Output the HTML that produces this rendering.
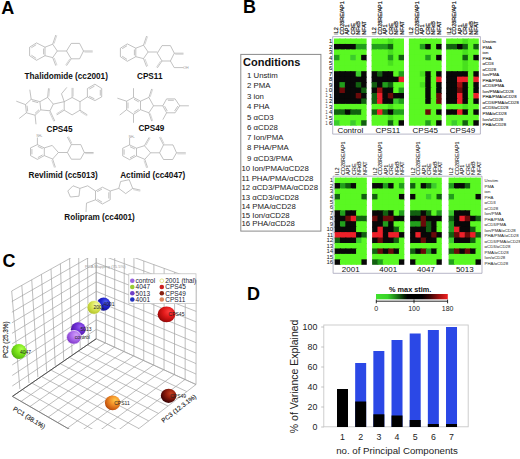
<!DOCTYPE html>
<html><head><meta charset="utf-8"><style>
html,body{margin:0;padding:0;background:#fff;}
body{width:520px;height:459px;overflow:hidden;}
svg{display:block;font-family:"Liberation Sans", sans-serif;}
</style></head><body>
<svg width="520" height="459" viewBox="0 0 520 459">
<path d="M29.6,47.2 L36.5,42.9 L45.0,47.2 L45.0,55.7 L36.5,60.3 L29.6,55.7 Z" fill="none" stroke="#a8a8a8" stroke-width="0.7" stroke-linejoin="round"/>
<path d="M31.4,47.7 L36.2,44.7" fill="none" stroke="#a8a8a8" stroke-width="0.7" stroke-linejoin="round"/>
<path d="M43.6,48.5 L43.6,54.4" fill="none" stroke="#a8a8a8" stroke-width="0.7" stroke-linejoin="round"/>
<path d="M36.2,58.4 L31.4,55.2" fill="none" stroke="#a8a8a8" stroke-width="0.7" stroke-linejoin="round"/>
<path d="M45.0,47.2 L52.7,44.2 L57.3,51.0 L52.7,57.6 L45.0,55.7" fill="none" stroke="#a8a8a8" stroke-width="0.7" stroke-linejoin="round"/>
<path d="M52.7,44.2 L55.8,35.0" fill="none" stroke="#a8a8a8" stroke-width="0.7" stroke-linejoin="round"/>
<path d="M54.1,43.6 L56.8,35.4" fill="none" stroke="#c4c4c4" stroke-width="0.7" stroke-linejoin="round"/>
<path d="M52.7,57.6 L55.8,65.7" fill="none" stroke="#a8a8a8" stroke-width="0.7" stroke-linejoin="round"/>
<path d="M54.2,57.9 L57.0,65.2" fill="none" stroke="#c4c4c4" stroke-width="0.7" stroke-linejoin="round"/>
<path d="M57.3,51.0 L66.5,51.0" fill="none" stroke="#a8a8a8" stroke-width="0.7" stroke-linejoin="round"/>
<path d="M66.5,51.0 L71.2,43.4 L79.6,43.4 L83.5,51.0 L79.6,58.8 L71.2,58.8 Z" fill="none" stroke="#a8a8a8" stroke-width="0.7" stroke-linejoin="round"/>
<path d="M83.5,51.0 L92.7,51.0" fill="none" stroke="#a8a8a8" stroke-width="0.7" stroke-linejoin="round"/>
<path d="M84.4,52.1 L92.7,52.1" fill="none" stroke="#c4c4c4" stroke-width="0.7" stroke-linejoin="round"/>
<path d="M71.2,58.8 L66.5,65.7" fill="none" stroke="#a8a8a8" stroke-width="0.7" stroke-linejoin="round"/>
<path d="M69.8,58.9 L65.6,65.1" fill="none" stroke="#c4c4c4" stroke-width="0.7" stroke-linejoin="round"/>
<path d="M120.4,48.2 L127.3,43.9 L135.8,48.2 L135.8,56.7 L127.3,61.3 L120.4,56.7 Z" fill="none" stroke="#a8a8a8" stroke-width="0.7" stroke-linejoin="round"/>
<path d="M122.2,48.7 L127.0,45.7" fill="none" stroke="#a8a8a8" stroke-width="0.7" stroke-linejoin="round"/>
<path d="M134.4,49.5 L134.4,55.4" fill="none" stroke="#a8a8a8" stroke-width="0.7" stroke-linejoin="round"/>
<path d="M127.0,59.4 L122.2,56.2" fill="none" stroke="#a8a8a8" stroke-width="0.7" stroke-linejoin="round"/>
<path d="M135.8,48.2 L143.5,45.2 L148.1,52.0 L143.5,58.6 L135.8,56.7" fill="none" stroke="#a8a8a8" stroke-width="0.7" stroke-linejoin="round"/>
<path d="M143.5,45.2 L146.6,36.0" fill="none" stroke="#a8a8a8" stroke-width="0.7" stroke-linejoin="round"/>
<path d="M144.9,44.6 L147.6,36.4" fill="none" stroke="#c4c4c4" stroke-width="0.7" stroke-linejoin="round"/>
<path d="M143.5,58.6 L146.6,66.7" fill="none" stroke="#a8a8a8" stroke-width="0.7" stroke-linejoin="round"/>
<path d="M145.0,58.9 L147.8,66.2" fill="none" stroke="#c4c4c4" stroke-width="0.7" stroke-linejoin="round"/>
<path d="M148.1,52.0 L157.3,52.0" fill="none" stroke="#a8a8a8" stroke-width="0.7" stroke-linejoin="round"/>
<path d="M157.3,53.2 L162.0,45.6 L170.4,45.6 L174.3,53.2 L170.4,61.0 L162.0,61.0 Z" fill="none" stroke="#a8a8a8" stroke-width="0.7" stroke-linejoin="round"/>
<path d="M174.3,53.2 L183.5,53.2" fill="none" stroke="#a8a8a8" stroke-width="0.7" stroke-linejoin="round"/>
<path d="M175.2,54.3 L183.5,54.3" fill="none" stroke="#c4c4c4" stroke-width="0.7" stroke-linejoin="round"/>
<path d="M162.0,61.0 L157.3,67.9" fill="none" stroke="#a8a8a8" stroke-width="0.7" stroke-linejoin="round"/>
<path d="M160.6,61.1 L156.4,67.3" fill="none" stroke="#c4c4c4" stroke-width="0.7" stroke-linejoin="round"/>
<path d="M170.4,61.0 L174.2,67.6 L183.5,67.6" fill="none" stroke="#a8a8a8" stroke-width="0.7" stroke-linejoin="round"/>
<text x="183.2" y="68.8" font-size="3.6" fill="#999">OH</text>
<path d="M25.5,104.6 L31.2,99.3 L39.9,101.7 L40.8,109.9 L35.1,115.2 L26.4,112.8 Z" fill="none" stroke="#a8a8a8" stroke-width="0.7" stroke-linejoin="round"/>
<path d="M32.1,101.0 L38.2,102.7" fill="none" stroke="#a8a8a8" stroke-width="0.7" stroke-linejoin="round"/>
<path d="M39.0,109.7 L35.0,113.4" fill="none" stroke="#a8a8a8" stroke-width="0.7" stroke-linejoin="round"/>
<path d="M27.7,111.4 L27.0,105.7" fill="none" stroke="#a8a8a8" stroke-width="0.7" stroke-linejoin="round"/>
<path d="M31.2,99.3 L29.8,89.7" fill="none" stroke="#a8a8a8" stroke-width="0.7" stroke-linejoin="round"/>
<path d="M25.5,104.6 L16.3,101.2" fill="none" stroke="#a8a8a8" stroke-width="0.7" stroke-linejoin="round"/>
<path d="M26.4,112.8 L19.2,118.5" fill="none" stroke="#a8a8a8" stroke-width="0.7" stroke-linejoin="round"/>
<path d="M35.1,115.2 L36.0,124.3" fill="none" stroke="#a8a8a8" stroke-width="0.7" stroke-linejoin="round"/>
<path d="M39.9,101.7 L47.6,97.4 L53.3,104.1 L50.0,110.8 L40.8,109.9" fill="none" stroke="#a8a8a8" stroke-width="0.7" stroke-linejoin="round"/>
<path d="M47.6,97.4 L48.5,88.3" fill="none" stroke="#a8a8a8" stroke-width="0.7" stroke-linejoin="round"/>
<path d="M48.8,96.6 L49.6,88.4" fill="none" stroke="#c4c4c4" stroke-width="0.7" stroke-linejoin="round"/>
<path d="M50.0,110.8 L54.8,121.0" fill="none" stroke="#a8a8a8" stroke-width="0.7" stroke-linejoin="round"/>
<path d="M49.5,112.3 L53.8,121.5" fill="none" stroke="#c4c4c4" stroke-width="0.7" stroke-linejoin="round"/>
<path d="M53.3,104.1 L64.2,101.7" fill="none" stroke="#a8a8a8" stroke-width="0.7" stroke-linejoin="round"/>
<path d="M64.2,101.7 L61.5,93.8 L66.8,87.4" fill="none" stroke="#a8a8a8" stroke-width="0.7" stroke-linejoin="round"/>
<path d="M64.2,101.7 L72.1,97.5 L80.0,101.7 L80.0,110.2 L72.1,114.9 L64.2,110.2 Z" fill="none" stroke="#a8a8a8" stroke-width="0.7" stroke-linejoin="round"/>
<path d="M72.1,97.5 L72.1,87.9" fill="none" stroke="#a8a8a8" stroke-width="0.7" stroke-linejoin="round"/>
<path d="M73.2,96.5 L73.2,87.9" fill="none" stroke="#c4c4c4" stroke-width="0.7" stroke-linejoin="round"/>
<path d="M64.2,110.2 L56.8,114.9" fill="none" stroke="#a8a8a8" stroke-width="0.7" stroke-linejoin="round"/>
<path d="M62.9,109.7 L56.2,114.0" fill="none" stroke="#c4c4c4" stroke-width="0.7" stroke-linejoin="round"/>
<path d="M80.0,110.2 L87.4,114.9" fill="none" stroke="#a8a8a8" stroke-width="0.7" stroke-linejoin="round"/>
<path d="M80.2,111.6 L86.8,115.8" fill="none" stroke="#c4c4c4" stroke-width="0.7" stroke-linejoin="round"/>
<path d="M80.0,101.7 L87.4,96.9" fill="none" stroke="#a8a8a8" stroke-width="0.7" stroke-linejoin="round"/>
<path d="M87.4,96.9 L87.4,88.5 L94.9,84.2 L101.7,88.5 L101.7,96.9 L94.9,100.6 Z" fill="none" stroke="#a8a8a8" stroke-width="0.7" stroke-linejoin="round"/>
<path d="M89.2,89.1 L94.5,86.1" fill="none" stroke="#a8a8a8" stroke-width="0.7" stroke-linejoin="round"/>
<path d="M100.3,89.8 L100.3,95.6" fill="none" stroke="#a8a8a8" stroke-width="0.7" stroke-linejoin="round"/>
<path d="M94.4,98.8 L89.1,96.2" fill="none" stroke="#a8a8a8" stroke-width="0.7" stroke-linejoin="round"/>
<path d="M126.6,101.2 L133.5,97.4 L140.5,101.2 L140.5,109.7 L133.5,114.3 L126.6,109.7 Z" fill="none" stroke="#a8a8a8" stroke-width="0.7" stroke-linejoin="round"/>
<path d="M133.9,99.2 L138.8,101.9" fill="none" stroke="#a8a8a8" stroke-width="0.7" stroke-linejoin="round"/>
<path d="M138.7,109.2 L133.8,112.4" fill="none" stroke="#a8a8a8" stroke-width="0.7" stroke-linejoin="round"/>
<path d="M128.0,108.4 L128.0,102.5" fill="none" stroke="#a8a8a8" stroke-width="0.7" stroke-linejoin="round"/>
<path d="M133.5,97.4 L133.5,88.2" fill="none" stroke="#a8a8a8" stroke-width="0.7" stroke-linejoin="round"/>
<path d="M126.6,101.2 L117.4,98.2" fill="none" stroke="#a8a8a8" stroke-width="0.7" stroke-linejoin="round"/>
<path d="M126.6,109.7 L119.7,115.1" fill="none" stroke="#a8a8a8" stroke-width="0.7" stroke-linejoin="round"/>
<path d="M133.5,114.3 L133.5,122.8" fill="none" stroke="#a8a8a8" stroke-width="0.7" stroke-linejoin="round"/>
<path d="M140.5,101.2 L148.9,97.4 L153.5,105.8 L148.9,112.8 L140.5,109.7" fill="none" stroke="#a8a8a8" stroke-width="0.7" stroke-linejoin="round"/>
<path d="M148.9,97.4 L151.7,88.9" fill="none" stroke="#a8a8a8" stroke-width="0.7" stroke-linejoin="round"/>
<path d="M150.2,96.9 L152.7,89.2" fill="none" stroke="#c4c4c4" stroke-width="0.7" stroke-linejoin="round"/>
<path d="M148.9,112.8 L151.7,121.2" fill="none" stroke="#a8a8a8" stroke-width="0.7" stroke-linejoin="round"/>
<path d="M150.2,113.3 L152.7,120.9" fill="none" stroke="#c4c4c4" stroke-width="0.7" stroke-linejoin="round"/>
<path d="M153.5,105.8 L162.8,105.8" fill="none" stroke="#a8a8a8" stroke-width="0.7" stroke-linejoin="round"/>
<path d="M162.8,105.8 L166.6,98.9 L175.1,98.9 L179.7,105.8 L175.1,112.8 L166.6,112.8 Z" fill="none" stroke="#a8a8a8" stroke-width="0.7" stroke-linejoin="round"/>
<path d="M167.9,100.3 L173.8,100.3" fill="none" stroke="#a8a8a8" stroke-width="0.7" stroke-linejoin="round"/>
<path d="M177.8,106.1 L174.6,111.0" fill="none" stroke="#a8a8a8" stroke-width="0.7" stroke-linejoin="round"/>
<path d="M167.3,111.1 L164.6,106.2" fill="none" stroke="#a8a8a8" stroke-width="0.7" stroke-linejoin="round"/>
<path d="M179.7,105.8 L188.9,105.8" fill="none" stroke="#a8a8a8" stroke-width="0.7" stroke-linejoin="round"/>
<path d="M166.6,112.8 L162.8,119.7" fill="none" stroke="#a8a8a8" stroke-width="0.7" stroke-linejoin="round"/>
<path d="M30.5,147.9 L37.4,144.6 L44.3,147.9 L44.3,155.6 L37.4,159.4 L30.5,155.6 Z" fill="none" stroke="#a8a8a8" stroke-width="0.7" stroke-linejoin="round"/>
<path d="M37.8,146.4 L42.7,148.7" fill="none" stroke="#a8a8a8" stroke-width="0.7" stroke-linejoin="round"/>
<path d="M42.6,154.9 L37.8,157.6" fill="none" stroke="#a8a8a8" stroke-width="0.7" stroke-linejoin="round"/>
<path d="M31.9,154.4 L31.9,149.1" fill="none" stroke="#a8a8a8" stroke-width="0.7" stroke-linejoin="round"/>
<path d="M37.4,144.6 L37.4,137.5" fill="none" stroke="#a8a8a8" stroke-width="0.7" stroke-linejoin="round"/>
<text x="36.5" y="137.2" font-size="3.2" fill="#999">NH<tspan font-size="2">2</tspan></text>
<path d="M44.3,147.9 L52.2,145.4 L58.4,152.5 L52.6,159.0 L44.3,155.6" fill="none" stroke="#a8a8a8" stroke-width="0.7" stroke-linejoin="round"/>
<path d="M52.6,159.0 L55.4,167.3" fill="none" stroke="#a8a8a8" stroke-width="0.7" stroke-linejoin="round"/>
<path d="M51.8,160.2 L54.4,167.7" fill="none" stroke="#c4c4c4" stroke-width="0.7" stroke-linejoin="round"/>
<path d="M58.4,152.5 L67.4,152.5" fill="none" stroke="#a8a8a8" stroke-width="0.7" stroke-linejoin="round"/>
<path d="M67.4,152.5 L71.3,144.6 L80.8,144.6 L84.3,152.5 L80.5,159.2 L71.3,159.2 Z" fill="none" stroke="#a8a8a8" stroke-width="0.7" stroke-linejoin="round"/>
<path d="M71.3,144.6 L67.4,137.0" fill="none" stroke="#a8a8a8" stroke-width="0.7" stroke-linejoin="round"/>
<path d="M71.9,143.3 L68.4,136.5" fill="none" stroke="#c4c4c4" stroke-width="0.7" stroke-linejoin="round"/>
<path d="M84.3,152.5 L93.6,152.5" fill="none" stroke="#a8a8a8" stroke-width="0.7" stroke-linejoin="round"/>
<path d="M85.2,153.6 L93.6,153.6" fill="none" stroke="#c4c4c4" stroke-width="0.7" stroke-linejoin="round"/>
<path d="M122.7,148.2 L129.6,144.9 L136.5,148.2 L136.5,155.9 L129.6,159.7 L122.7,155.9 Z" fill="none" stroke="#a8a8a8" stroke-width="0.7" stroke-linejoin="round"/>
<path d="M130.0,146.7 L134.9,149.0" fill="none" stroke="#a8a8a8" stroke-width="0.7" stroke-linejoin="round"/>
<path d="M134.8,155.2 L130.0,157.9" fill="none" stroke="#a8a8a8" stroke-width="0.7" stroke-linejoin="round"/>
<path d="M124.1,154.7 L124.1,149.4" fill="none" stroke="#a8a8a8" stroke-width="0.7" stroke-linejoin="round"/>
<path d="M129.6,144.9 L129.6,137.8" fill="none" stroke="#a8a8a8" stroke-width="0.7" stroke-linejoin="round"/>
<text x="128.7" y="137.5" font-size="3.2" fill="#999">NH<tspan font-size="2">2</tspan></text>
<path d="M136.5,148.2 L144.4,145.7 L150.6,152.8 L144.8,159.3 L136.5,155.9" fill="none" stroke="#a8a8a8" stroke-width="0.7" stroke-linejoin="round"/>
<path d="M144.8,159.3 L147.6,167.6" fill="none" stroke="#a8a8a8" stroke-width="0.7" stroke-linejoin="round"/>
<path d="M144.0,160.5 L146.6,168.0" fill="none" stroke="#c4c4c4" stroke-width="0.7" stroke-linejoin="round"/>
<path d="M144.4,145.7 L149.2,137.3" fill="none" stroke="#a8a8a8" stroke-width="0.7" stroke-linejoin="round"/>
<path d="M145.8,145.4 L150.2,137.8" fill="none" stroke="#c4c4c4" stroke-width="0.7" stroke-linejoin="round"/>
<path d="M150.6,152.8 L159.6,152.8" fill="none" stroke="#a8a8a8" stroke-width="0.7" stroke-linejoin="round"/>
<path d="M159.6,152.8 L163.5,144.9 L173.0,144.9 L176.5,152.8 L172.7,159.5 L163.5,159.5 Z" fill="none" stroke="#a8a8a8" stroke-width="0.7" stroke-linejoin="round"/>
<path d="M163.5,144.9 L159.6,137.3" fill="none" stroke="#a8a8a8" stroke-width="0.7" stroke-linejoin="round"/>
<path d="M164.1,143.6 L160.6,136.8" fill="none" stroke="#c4c4c4" stroke-width="0.7" stroke-linejoin="round"/>
<path d="M176.5,152.8 L185.8,152.8" fill="none" stroke="#a8a8a8" stroke-width="0.7" stroke-linejoin="round"/>
<path d="M177.4,153.9 L185.8,153.9" fill="none" stroke="#c4c4c4" stroke-width="0.7" stroke-linejoin="round"/>
<path d="M67.8,191.0 L73.0,185.8 L79.9,188.4 L79.0,196.2 L70.4,197.0 Z" fill="none" stroke="#a8a8a8" stroke-width="0.7" stroke-linejoin="round"/>
<path d="M79.9,188.4 L87.7,185.8 L95.5,191.0" fill="none" stroke="#a8a8a8" stroke-width="0.7" stroke-linejoin="round"/>
<path d="M95.5,191.0 L102.4,187.2 L110.2,191.0 L110.2,199.8 L102.4,204.0 L95.5,199.8 Z" fill="none" stroke="#a8a8a8" stroke-width="0.7" stroke-linejoin="round"/>
<path d="M97.2,191.7 L102.0,189.0" fill="none" stroke="#a8a8a8" stroke-width="0.7" stroke-linejoin="round"/>
<path d="M108.8,192.3 L108.8,198.5" fill="none" stroke="#a8a8a8" stroke-width="0.7" stroke-linejoin="round"/>
<path d="M102.1,202.2 L97.3,199.2" fill="none" stroke="#a8a8a8" stroke-width="0.7" stroke-linejoin="round"/>
<path d="M95.5,199.8 L86.5,203.1 L86.0,212.0" fill="none" stroke="#a8a8a8" stroke-width="0.7" stroke-linejoin="round"/>
<path d="M110.2,191.0 L118.8,188.4" fill="none" stroke="#a8a8a8" stroke-width="0.7" stroke-linejoin="round"/>
<path d="M118.8,188.4 L120.6,181.5 L129.2,179.7 L132.7,188.4 L125.7,193.6 Z" fill="none" stroke="#a8a8a8" stroke-width="0.7" stroke-linejoin="round"/>
<path d="M132.7,188.4 L140.4,190.1" fill="none" stroke="#a8a8a8" stroke-width="0.7" stroke-linejoin="round"/>
<path d="M133.2,189.6 L140.2,191.2" fill="none" stroke="#c4c4c4" stroke-width="0.7" stroke-linejoin="round"/>
<text x="24.6" y="78.8" font-size="8.2" font-weight="bold" fill="#111">Thalidomide (cc2001)</text>
<text x="137" y="79.4" font-size="8.2" font-weight="bold" fill="#111">CPS11</text>
<text x="46.5" y="131.8" font-size="8.2" font-weight="bold" fill="#111">CPS45</text>
<text x="138.4" y="131.0" font-size="8.2" font-weight="bold" fill="#111">CPS49</text>
<text x="28.6" y="178.3" font-size="8.2" font-weight="bold" fill="#111">Revlimid (cc5013)</text>
<text x="120.2" y="177.8" font-size="8.2" font-weight="bold" fill="#111">Actimid (cc4047)</text>
<text x="64.3" y="220.3" font-size="8.2" font-weight="bold" fill="#111">Rolipram (cc4001)</text>
<text x="1.2" y="14" font-size="18" font-weight="bold" fill="#000">A</text>
<text x="243" y="12.8" font-size="18" font-weight="bold" fill="#000">B</text>
<text x="2.5" y="267.3" font-size="18" font-weight="bold" fill="#000">C</text>
<text x="247" y="300.4" font-size="18" font-weight="bold" fill="#000">D</text>
<rect x="240.8" y="54.4" width="80.1" height="176.7" fill="none" stroke="#8a8a8a" stroke-width="1"/>
<text x="243" y="65.7" font-size="11" font-weight="bold" fill="#111">Conditions</text>
<text x="247" y="77.9" font-size="7.8" fill="#222">1 Unstim</text>
<text x="247" y="88.4" font-size="7.8" fill="#222">2 PMA</text>
<text x="247" y="98.9" font-size="7.8" fill="#222">3 ion</text>
<text x="247" y="109.4" font-size="7.8" fill="#222">4 PHA</text>
<text x="247" y="119.6" font-size="7.8" fill="#222">5 αCD3</text>
<text x="247" y="130.0" font-size="7.8" fill="#222">6 αCD28</text>
<text x="247" y="139.9" font-size="7.8" fill="#222">7 Ion/PMA</text>
<text x="247" y="150.3" font-size="7.8" fill="#222">8 PHA/PMA</text>
<text x="247" y="160.5" font-size="7.8" fill="#222">9 αCD3/PMA</text>
<text x="241.4" y="171.3" font-size="7.8" fill="#222">10 Ion/PMA/αCD28</text>
<text x="241.4" y="180.6" font-size="7.8" fill="#222">11 PHA/PMA/αCD28</text>
<text x="241.4" y="190.1" font-size="7.8" fill="#222">12 αCD3/PMA/αCD28</text>
<text x="241.4" y="200.1" font-size="7.8" fill="#222">13 αCD3/αCD28</text>
<text x="241.4" y="208.9" font-size="7.8" fill="#222">14 PMA/αCD28</text>
<text x="241.4" y="218.4" font-size="7.8" fill="#222">15 Ion/αCD28</text>
<text x="241.4" y="226.3" font-size="7.8" fill="#222">16 PHA/αCD28</text>
<rect x="334.00" y="38.50" width="6.43" height="6.45" fill="#5af822"/>
<rect x="339.43" y="38.50" width="6.43" height="6.45" fill="#5af822"/>
<rect x="344.87" y="38.50" width="6.43" height="6.45" fill="#5af822"/>
<rect x="350.30" y="38.50" width="6.43" height="6.45" fill="#5af822"/>
<rect x="355.73" y="38.50" width="6.43" height="6.45" fill="#5af822"/>
<rect x="361.17" y="38.50" width="5.43" height="6.45" fill="#5af822"/>
<rect x="334.00" y="43.95" width="6.43" height="6.45" fill="#080808"/>
<rect x="339.43" y="43.95" width="6.43" height="6.45" fill="#080808"/>
<rect x="344.87" y="43.95" width="6.43" height="6.45" fill="#080808"/>
<rect x="350.30" y="43.95" width="6.43" height="6.45" fill="#080808"/>
<rect x="355.73" y="43.95" width="6.43" height="6.45" fill="#229e1c"/>
<rect x="361.17" y="43.95" width="5.43" height="6.45" fill="#229e1c"/>
<rect x="334.00" y="49.40" width="6.43" height="6.45" fill="#5af822"/>
<rect x="339.43" y="49.40" width="6.43" height="6.45" fill="#5af822"/>
<rect x="344.87" y="49.40" width="6.43" height="6.45" fill="#5af822"/>
<rect x="350.30" y="49.40" width="6.43" height="6.45" fill="#5af822"/>
<rect x="355.73" y="49.40" width="6.43" height="6.45" fill="#5af822"/>
<rect x="361.17" y="49.40" width="5.43" height="6.45" fill="#5af822"/>
<rect x="334.00" y="54.85" width="6.43" height="6.45" fill="#229e1c"/>
<rect x="339.43" y="54.85" width="6.43" height="6.45" fill="#5af822"/>
<rect x="344.87" y="54.85" width="6.43" height="6.45" fill="#5af822"/>
<rect x="350.30" y="54.85" width="6.43" height="6.45" fill="#3ccc2c"/>
<rect x="355.73" y="54.85" width="6.43" height="6.45" fill="#5af822"/>
<rect x="361.17" y="54.85" width="5.43" height="6.45" fill="#080808"/>
<rect x="334.00" y="60.30" width="6.43" height="6.45" fill="#5af822"/>
<rect x="339.43" y="60.30" width="6.43" height="6.45" fill="#5af822"/>
<rect x="344.87" y="60.30" width="6.43" height="6.45" fill="#5af822"/>
<rect x="350.30" y="60.30" width="6.43" height="6.45" fill="#5af822"/>
<rect x="355.73" y="60.30" width="6.43" height="6.45" fill="#5af822"/>
<rect x="361.17" y="60.30" width="5.43" height="6.45" fill="#5af822"/>
<rect x="334.00" y="65.75" width="6.43" height="6.45" fill="#5af822"/>
<rect x="339.43" y="65.75" width="6.43" height="6.45" fill="#5af822"/>
<rect x="344.87" y="65.75" width="6.43" height="6.45" fill="#5af822"/>
<rect x="350.30" y="65.75" width="6.43" height="6.45" fill="#5af822"/>
<rect x="355.73" y="65.75" width="6.43" height="6.45" fill="#5af822"/>
<rect x="361.17" y="65.75" width="5.43" height="6.45" fill="#5af822"/>
<rect x="334.00" y="71.20" width="6.43" height="6.45" fill="#080808"/>
<rect x="339.43" y="71.20" width="6.43" height="6.45" fill="#080808"/>
<rect x="344.87" y="71.20" width="6.43" height="6.45" fill="#080808"/>
<rect x="350.30" y="71.20" width="6.43" height="6.45" fill="#080808"/>
<rect x="355.73" y="71.20" width="6.43" height="6.45" fill="#3ccc2c"/>
<rect x="361.17" y="71.20" width="5.43" height="6.45" fill="#080808"/>
<rect x="334.00" y="76.65" width="6.43" height="6.45" fill="#080808"/>
<rect x="339.43" y="76.65" width="6.43" height="6.45" fill="#080808"/>
<rect x="344.87" y="76.65" width="6.43" height="6.45" fill="#080808"/>
<rect x="350.30" y="76.65" width="6.43" height="6.45" fill="#080808"/>
<rect x="355.73" y="76.65" width="6.43" height="6.45" fill="#080808"/>
<rect x="361.17" y="76.65" width="5.43" height="6.45" fill="#080808"/>
<rect x="334.00" y="82.10" width="6.43" height="6.45" fill="#080808"/>
<rect x="339.43" y="82.10" width="6.43" height="6.45" fill="#229e1c"/>
<rect x="344.87" y="82.10" width="6.43" height="6.45" fill="#080808"/>
<rect x="350.30" y="82.10" width="6.43" height="6.45" fill="#080808"/>
<rect x="355.73" y="82.10" width="6.43" height="6.45" fill="#126010"/>
<rect x="361.17" y="82.10" width="5.43" height="6.45" fill="#080808"/>
<rect x="334.00" y="87.55" width="6.43" height="6.45" fill="#080808"/>
<rect x="339.43" y="87.55" width="6.43" height="6.45" fill="#6a0a0a"/>
<rect x="344.87" y="87.55" width="6.43" height="6.45" fill="#080808"/>
<rect x="350.30" y="87.55" width="6.43" height="6.45" fill="#080808"/>
<rect x="355.73" y="87.55" width="6.43" height="6.45" fill="#080808"/>
<rect x="361.17" y="87.55" width="5.43" height="6.45" fill="#126010"/>
<rect x="334.00" y="93.00" width="6.43" height="6.45" fill="#080808"/>
<rect x="339.43" y="93.00" width="6.43" height="6.45" fill="#080808"/>
<rect x="344.87" y="93.00" width="6.43" height="6.45" fill="#080808"/>
<rect x="350.30" y="93.00" width="6.43" height="6.45" fill="#080808"/>
<rect x="355.73" y="93.00" width="6.43" height="6.45" fill="#6a0a0a"/>
<rect x="361.17" y="93.00" width="5.43" height="6.45" fill="#080808"/>
<rect x="334.00" y="98.45" width="6.43" height="6.45" fill="#080808"/>
<rect x="339.43" y="98.45" width="6.43" height="6.45" fill="#080808"/>
<rect x="344.87" y="98.45" width="6.43" height="6.45" fill="#080808"/>
<rect x="350.30" y="98.45" width="6.43" height="6.45" fill="#080808"/>
<rect x="355.73" y="98.45" width="6.43" height="6.45" fill="#080808"/>
<rect x="361.17" y="98.45" width="5.43" height="6.45" fill="#126010"/>
<rect x="334.00" y="103.90" width="6.43" height="6.45" fill="#5af822"/>
<rect x="339.43" y="103.90" width="6.43" height="6.45" fill="#5af822"/>
<rect x="344.87" y="103.90" width="6.43" height="6.45" fill="#5af822"/>
<rect x="350.30" y="103.90" width="6.43" height="6.45" fill="#5af822"/>
<rect x="355.73" y="103.90" width="6.43" height="6.45" fill="#5af822"/>
<rect x="361.17" y="103.90" width="5.43" height="6.45" fill="#5af822"/>
<rect x="334.00" y="109.35" width="6.43" height="6.45" fill="#126010"/>
<rect x="339.43" y="109.35" width="6.43" height="6.45" fill="#126010"/>
<rect x="344.87" y="109.35" width="6.43" height="6.45" fill="#080808"/>
<rect x="350.30" y="109.35" width="6.43" height="6.45" fill="#126010"/>
<rect x="355.73" y="109.35" width="6.43" height="6.45" fill="#126010"/>
<rect x="361.17" y="109.35" width="5.43" height="6.45" fill="#5af822"/>
<rect x="334.00" y="114.80" width="6.43" height="6.45" fill="#5af822"/>
<rect x="339.43" y="114.80" width="6.43" height="6.45" fill="#5af822"/>
<rect x="344.87" y="114.80" width="6.43" height="6.45" fill="#5af822"/>
<rect x="350.30" y="114.80" width="6.43" height="6.45" fill="#5af822"/>
<rect x="355.73" y="114.80" width="6.43" height="6.45" fill="#5af822"/>
<rect x="361.17" y="114.80" width="5.43" height="6.45" fill="#5af822"/>
<rect x="334.00" y="120.25" width="6.43" height="5.45" fill="#3ccc2c"/>
<rect x="339.43" y="120.25" width="6.43" height="5.45" fill="#5af822"/>
<rect x="344.87" y="120.25" width="6.43" height="5.45" fill="#5af822"/>
<rect x="350.30" y="120.25" width="6.43" height="5.45" fill="#3ccc2c"/>
<rect x="355.73" y="120.25" width="6.43" height="5.45" fill="#5af822"/>
<rect x="361.17" y="120.25" width="5.43" height="5.45" fill="#126010"/>
<text transform="translate(338.40,34.8) rotate(-90)" font-size="5.5" fill="#111" stroke="#111" stroke-width="0.18">IL2</text>
<text transform="translate(343.92,34.8) rotate(-90)" font-size="5.5" fill="#111" stroke="#111" stroke-width="0.18">CD28RE/AP1</text>
<text transform="translate(349.44,34.8) rotate(-90)" font-size="5.5" fill="#111" stroke="#111" stroke-width="0.18">AP1</text>
<text transform="translate(354.96,34.8) rotate(-90)" font-size="5.5" fill="#111" stroke="#111" stroke-width="0.18">CRE</text>
<text transform="translate(360.48,34.8) rotate(-90)" font-size="5.5" fill="#111" stroke="#111" stroke-width="0.18">NFκB</text>
<text transform="translate(366.00,34.8) rotate(-90)" font-size="5.5" fill="#111" stroke="#111" stroke-width="0.18">NFAT</text>
<rect x="371.60" y="38.50" width="6.40" height="6.45" fill="#5af822"/>
<rect x="377.00" y="38.50" width="6.40" height="6.45" fill="#5af822"/>
<rect x="382.40" y="38.50" width="6.40" height="6.45" fill="#5af822"/>
<rect x="387.80" y="38.50" width="6.40" height="6.45" fill="#48e01e"/>
<rect x="393.20" y="38.50" width="6.40" height="6.45" fill="#5af822"/>
<rect x="398.60" y="38.50" width="5.40" height="6.45" fill="#5af822"/>
<rect x="371.60" y="43.95" width="6.40" height="6.45" fill="#229e1c"/>
<rect x="377.00" y="43.95" width="6.40" height="6.45" fill="#229e1c"/>
<rect x="382.40" y="43.95" width="6.40" height="6.45" fill="#229e1c"/>
<rect x="387.80" y="43.95" width="6.40" height="6.45" fill="#126010"/>
<rect x="393.20" y="43.95" width="6.40" height="6.45" fill="#5af822"/>
<rect x="398.60" y="43.95" width="5.40" height="6.45" fill="#5af822"/>
<rect x="371.60" y="49.40" width="6.40" height="6.45" fill="#5af822"/>
<rect x="377.00" y="49.40" width="6.40" height="6.45" fill="#5af822"/>
<rect x="382.40" y="49.40" width="6.40" height="6.45" fill="#5af822"/>
<rect x="387.80" y="49.40" width="6.40" height="6.45" fill="#48e01e"/>
<rect x="393.20" y="49.40" width="6.40" height="6.45" fill="#5af822"/>
<rect x="398.60" y="49.40" width="5.40" height="6.45" fill="#5af822"/>
<rect x="371.60" y="54.85" width="6.40" height="6.45" fill="#5af822"/>
<rect x="377.00" y="54.85" width="6.40" height="6.45" fill="#5af822"/>
<rect x="382.40" y="54.85" width="6.40" height="6.45" fill="#5af822"/>
<rect x="387.80" y="54.85" width="6.40" height="6.45" fill="#229e1c"/>
<rect x="393.20" y="54.85" width="6.40" height="6.45" fill="#5af822"/>
<rect x="398.60" y="54.85" width="5.40" height="6.45" fill="#126010"/>
<rect x="371.60" y="60.30" width="6.40" height="6.45" fill="#5af822"/>
<rect x="377.00" y="60.30" width="6.40" height="6.45" fill="#5af822"/>
<rect x="382.40" y="60.30" width="6.40" height="6.45" fill="#5af822"/>
<rect x="387.80" y="60.30" width="6.40" height="6.45" fill="#48e01e"/>
<rect x="393.20" y="60.30" width="6.40" height="6.45" fill="#5af822"/>
<rect x="398.60" y="60.30" width="5.40" height="6.45" fill="#5af822"/>
<rect x="371.60" y="65.75" width="6.40" height="6.45" fill="#5af822"/>
<rect x="377.00" y="65.75" width="6.40" height="6.45" fill="#5af822"/>
<rect x="382.40" y="65.75" width="6.40" height="6.45" fill="#5af822"/>
<rect x="387.80" y="65.75" width="6.40" height="6.45" fill="#5af822"/>
<rect x="393.20" y="65.75" width="6.40" height="6.45" fill="#5af822"/>
<rect x="398.60" y="65.75" width="5.40" height="6.45" fill="#5af822"/>
<rect x="371.60" y="71.20" width="6.40" height="6.45" fill="#080808"/>
<rect x="377.00" y="71.20" width="6.40" height="6.45" fill="#126010"/>
<rect x="382.40" y="71.20" width="6.40" height="6.45" fill="#080808"/>
<rect x="387.80" y="71.20" width="6.40" height="6.45" fill="#080808"/>
<rect x="393.20" y="71.20" width="6.40" height="6.45" fill="#5af822"/>
<rect x="398.60" y="71.20" width="5.40" height="6.45" fill="#229e1c"/>
<rect x="371.60" y="76.65" width="6.40" height="6.45" fill="#080808"/>
<rect x="377.00" y="76.65" width="6.40" height="6.45" fill="#080808"/>
<rect x="382.40" y="76.65" width="6.40" height="6.45" fill="#080808"/>
<rect x="387.80" y="76.65" width="6.40" height="6.45" fill="#080808"/>
<rect x="393.20" y="76.65" width="6.40" height="6.45" fill="#080808"/>
<rect x="398.60" y="76.65" width="5.40" height="6.45" fill="#ec202a"/>
<rect x="371.60" y="82.10" width="6.40" height="6.45" fill="#126010"/>
<rect x="377.00" y="82.10" width="6.40" height="6.45" fill="#080808"/>
<rect x="382.40" y="82.10" width="6.40" height="6.45" fill="#229e1c"/>
<rect x="387.80" y="82.10" width="6.40" height="6.45" fill="#126010"/>
<rect x="393.20" y="82.10" width="6.40" height="6.45" fill="#5af822"/>
<rect x="398.60" y="82.10" width="5.40" height="6.45" fill="#5af822"/>
<rect x="371.60" y="87.55" width="6.40" height="6.45" fill="#080808"/>
<rect x="377.00" y="87.55" width="6.40" height="6.45" fill="#9a1010"/>
<rect x="382.40" y="87.55" width="6.40" height="6.45" fill="#080808"/>
<rect x="387.80" y="87.55" width="6.40" height="6.45" fill="#080808"/>
<rect x="393.20" y="87.55" width="6.40" height="6.45" fill="#5af822"/>
<rect x="398.60" y="87.55" width="5.40" height="6.45" fill="#229e1c"/>
<rect x="371.60" y="93.00" width="6.40" height="6.45" fill="#126010"/>
<rect x="377.00" y="93.00" width="6.40" height="6.45" fill="#ec202a"/>
<rect x="382.40" y="93.00" width="6.40" height="6.45" fill="#080808"/>
<rect x="387.80" y="93.00" width="6.40" height="6.45" fill="#6a0a0a"/>
<rect x="393.20" y="93.00" width="6.40" height="6.45" fill="#080808"/>
<rect x="398.60" y="93.00" width="5.40" height="6.45" fill="#080808"/>
<rect x="371.60" y="98.45" width="6.40" height="6.45" fill="#126010"/>
<rect x="377.00" y="98.45" width="6.40" height="6.45" fill="#ec202a"/>
<rect x="382.40" y="98.45" width="6.40" height="6.45" fill="#080808"/>
<rect x="387.80" y="98.45" width="6.40" height="6.45" fill="#080808"/>
<rect x="393.20" y="98.45" width="6.40" height="6.45" fill="#3ccc2c"/>
<rect x="398.60" y="98.45" width="5.40" height="6.45" fill="#229e1c"/>
<rect x="371.60" y="103.90" width="6.40" height="6.45" fill="#5af822"/>
<rect x="377.00" y="103.90" width="6.40" height="6.45" fill="#5af822"/>
<rect x="382.40" y="103.90" width="6.40" height="6.45" fill="#5af822"/>
<rect x="387.80" y="103.90" width="6.40" height="6.45" fill="#48e01e"/>
<rect x="393.20" y="103.90" width="6.40" height="6.45" fill="#5af822"/>
<rect x="398.60" y="103.90" width="5.40" height="6.45" fill="#5af822"/>
<rect x="371.60" y="109.35" width="6.40" height="6.45" fill="#126010"/>
<rect x="377.00" y="109.35" width="6.40" height="6.45" fill="#ec202a"/>
<rect x="382.40" y="109.35" width="6.40" height="6.45" fill="#126010"/>
<rect x="387.80" y="109.35" width="6.40" height="6.45" fill="#080808"/>
<rect x="393.20" y="109.35" width="6.40" height="6.45" fill="#229e1c"/>
<rect x="398.60" y="109.35" width="5.40" height="6.45" fill="#229e1c"/>
<rect x="371.60" y="114.80" width="6.40" height="6.45" fill="#5af822"/>
<rect x="377.00" y="114.80" width="6.40" height="6.45" fill="#5af822"/>
<rect x="382.40" y="114.80" width="6.40" height="6.45" fill="#5af822"/>
<rect x="387.80" y="114.80" width="6.40" height="6.45" fill="#48e01e"/>
<rect x="393.20" y="114.80" width="6.40" height="6.45" fill="#5af822"/>
<rect x="398.60" y="114.80" width="5.40" height="6.45" fill="#5af822"/>
<rect x="371.60" y="120.25" width="6.40" height="5.45" fill="#5af822"/>
<rect x="377.00" y="120.25" width="6.40" height="5.45" fill="#5af822"/>
<rect x="382.40" y="120.25" width="6.40" height="5.45" fill="#5af822"/>
<rect x="387.80" y="120.25" width="6.40" height="5.45" fill="#126010"/>
<rect x="393.20" y="120.25" width="6.40" height="5.45" fill="#5af822"/>
<rect x="398.60" y="120.25" width="5.40" height="5.45" fill="#080808"/>
<text transform="translate(376.00,34.8) rotate(-90)" font-size="5.5" fill="#111" stroke="#111" stroke-width="0.18">IL2</text>
<text transform="translate(381.52,34.8) rotate(-90)" font-size="5.5" fill="#111" stroke="#111" stroke-width="0.18">CD28RE/AP1</text>
<text transform="translate(387.04,34.8) rotate(-90)" font-size="5.5" fill="#111" stroke="#111" stroke-width="0.18">AP1</text>
<text transform="translate(392.56,34.8) rotate(-90)" font-size="5.5" fill="#111" stroke="#111" stroke-width="0.18">CRE</text>
<text transform="translate(398.08,34.8) rotate(-90)" font-size="5.5" fill="#111" stroke="#111" stroke-width="0.18">NFκB</text>
<text transform="translate(403.60,34.8) rotate(-90)" font-size="5.5" fill="#111" stroke="#111" stroke-width="0.18">NFAT</text>
<rect x="408.90" y="38.50" width="6.45" height="6.45" fill="#5af822"/>
<rect x="414.35" y="38.50" width="6.45" height="6.45" fill="#5af822"/>
<rect x="419.80" y="38.50" width="6.45" height="6.45" fill="#5af822"/>
<rect x="425.25" y="38.50" width="6.45" height="6.45" fill="#5af822"/>
<rect x="430.70" y="38.50" width="6.45" height="6.45" fill="#5af822"/>
<rect x="436.15" y="38.50" width="5.45" height="6.45" fill="#5af822"/>
<rect x="408.90" y="43.95" width="6.45" height="6.45" fill="#5af822"/>
<rect x="414.35" y="43.95" width="6.45" height="6.45" fill="#5af822"/>
<rect x="419.80" y="43.95" width="6.45" height="6.45" fill="#229e1c"/>
<rect x="425.25" y="43.95" width="6.45" height="6.45" fill="#080808"/>
<rect x="430.70" y="43.95" width="6.45" height="6.45" fill="#5af822"/>
<rect x="436.15" y="43.95" width="5.45" height="6.45" fill="#080808"/>
<rect x="408.90" y="49.40" width="6.45" height="6.45" fill="#5af822"/>
<rect x="414.35" y="49.40" width="6.45" height="6.45" fill="#5af822"/>
<rect x="419.80" y="49.40" width="6.45" height="6.45" fill="#5af822"/>
<rect x="425.25" y="49.40" width="6.45" height="6.45" fill="#5af822"/>
<rect x="430.70" y="49.40" width="6.45" height="6.45" fill="#5af822"/>
<rect x="436.15" y="49.40" width="5.45" height="6.45" fill="#5af822"/>
<rect x="408.90" y="54.85" width="6.45" height="6.45" fill="#5af822"/>
<rect x="414.35" y="54.85" width="6.45" height="6.45" fill="#5af822"/>
<rect x="419.80" y="54.85" width="6.45" height="6.45" fill="#5af822"/>
<rect x="425.25" y="54.85" width="6.45" height="6.45" fill="#229e1c"/>
<rect x="430.70" y="54.85" width="6.45" height="6.45" fill="#5af822"/>
<rect x="436.15" y="54.85" width="5.45" height="6.45" fill="#080808"/>
<rect x="408.90" y="60.30" width="6.45" height="6.45" fill="#5af822"/>
<rect x="414.35" y="60.30" width="6.45" height="6.45" fill="#5af822"/>
<rect x="419.80" y="60.30" width="6.45" height="6.45" fill="#5af822"/>
<rect x="425.25" y="60.30" width="6.45" height="6.45" fill="#5af822"/>
<rect x="430.70" y="60.30" width="6.45" height="6.45" fill="#5af822"/>
<rect x="436.15" y="60.30" width="5.45" height="6.45" fill="#5af822"/>
<rect x="408.90" y="65.75" width="6.45" height="6.45" fill="#5af822"/>
<rect x="414.35" y="65.75" width="6.45" height="6.45" fill="#5af822"/>
<rect x="419.80" y="65.75" width="6.45" height="6.45" fill="#5af822"/>
<rect x="425.25" y="65.75" width="6.45" height="6.45" fill="#5af822"/>
<rect x="430.70" y="65.75" width="6.45" height="6.45" fill="#5af822"/>
<rect x="436.15" y="65.75" width="5.45" height="6.45" fill="#5af822"/>
<rect x="408.90" y="71.20" width="6.45" height="6.45" fill="#5af822"/>
<rect x="414.35" y="71.20" width="6.45" height="6.45" fill="#5af822"/>
<rect x="419.80" y="71.20" width="6.45" height="6.45" fill="#48e01e"/>
<rect x="425.25" y="71.20" width="6.45" height="6.45" fill="#080808"/>
<rect x="430.70" y="71.20" width="6.45" height="6.45" fill="#5af822"/>
<rect x="436.15" y="71.20" width="5.45" height="6.45" fill="#080808"/>
<rect x="408.90" y="76.65" width="6.45" height="6.45" fill="#5af822"/>
<rect x="414.35" y="76.65" width="6.45" height="6.45" fill="#5af822"/>
<rect x="419.80" y="76.65" width="6.45" height="6.45" fill="#5af822"/>
<rect x="425.25" y="76.65" width="6.45" height="6.45" fill="#080808"/>
<rect x="430.70" y="76.65" width="6.45" height="6.45" fill="#5af822"/>
<rect x="436.15" y="76.65" width="5.45" height="6.45" fill="#ec202a"/>
<rect x="408.90" y="82.10" width="6.45" height="6.45" fill="#5af822"/>
<rect x="414.35" y="82.10" width="6.45" height="6.45" fill="#5af822"/>
<rect x="419.80" y="82.10" width="6.45" height="6.45" fill="#48e01e"/>
<rect x="425.25" y="82.10" width="6.45" height="6.45" fill="#080808"/>
<rect x="430.70" y="82.10" width="6.45" height="6.45" fill="#5af822"/>
<rect x="436.15" y="82.10" width="5.45" height="6.45" fill="#080808"/>
<rect x="408.90" y="87.55" width="6.45" height="6.45" fill="#5af822"/>
<rect x="414.35" y="87.55" width="6.45" height="6.45" fill="#5af822"/>
<rect x="419.80" y="87.55" width="6.45" height="6.45" fill="#5af822"/>
<rect x="425.25" y="87.55" width="6.45" height="6.45" fill="#080808"/>
<rect x="430.70" y="87.55" width="6.45" height="6.45" fill="#5af822"/>
<rect x="436.15" y="87.55" width="5.45" height="6.45" fill="#080808"/>
<rect x="408.90" y="93.00" width="6.45" height="6.45" fill="#5af822"/>
<rect x="414.35" y="93.00" width="6.45" height="6.45" fill="#5af822"/>
<rect x="419.80" y="93.00" width="6.45" height="6.45" fill="#5af822"/>
<rect x="425.25" y="93.00" width="6.45" height="6.45" fill="#080808"/>
<rect x="430.70" y="93.00" width="6.45" height="6.45" fill="#5af822"/>
<rect x="436.15" y="93.00" width="5.45" height="6.45" fill="#6a0a0a"/>
<rect x="408.90" y="98.45" width="6.45" height="6.45" fill="#5af822"/>
<rect x="414.35" y="98.45" width="6.45" height="6.45" fill="#5af822"/>
<rect x="419.80" y="98.45" width="6.45" height="6.45" fill="#5af822"/>
<rect x="425.25" y="98.45" width="6.45" height="6.45" fill="#080808"/>
<rect x="430.70" y="98.45" width="6.45" height="6.45" fill="#5af822"/>
<rect x="436.15" y="98.45" width="5.45" height="6.45" fill="#6a0a0a"/>
<rect x="408.90" y="103.90" width="6.45" height="6.45" fill="#5af822"/>
<rect x="414.35" y="103.90" width="6.45" height="6.45" fill="#5af822"/>
<rect x="419.80" y="103.90" width="6.45" height="6.45" fill="#5af822"/>
<rect x="425.25" y="103.90" width="6.45" height="6.45" fill="#5af822"/>
<rect x="430.70" y="103.90" width="6.45" height="6.45" fill="#5af822"/>
<rect x="436.15" y="103.90" width="5.45" height="6.45" fill="#5af822"/>
<rect x="408.90" y="109.35" width="6.45" height="6.45" fill="#5af822"/>
<rect x="414.35" y="109.35" width="6.45" height="6.45" fill="#5af822"/>
<rect x="419.80" y="109.35" width="6.45" height="6.45" fill="#5af822"/>
<rect x="425.25" y="109.35" width="6.45" height="6.45" fill="#6a0a0a"/>
<rect x="430.70" y="109.35" width="6.45" height="6.45" fill="#5af822"/>
<rect x="436.15" y="109.35" width="5.45" height="6.45" fill="#080808"/>
<rect x="408.90" y="114.80" width="6.45" height="6.45" fill="#5af822"/>
<rect x="414.35" y="114.80" width="6.45" height="6.45" fill="#5af822"/>
<rect x="419.80" y="114.80" width="6.45" height="6.45" fill="#5af822"/>
<rect x="425.25" y="114.80" width="6.45" height="6.45" fill="#5af822"/>
<rect x="430.70" y="114.80" width="6.45" height="6.45" fill="#5af822"/>
<rect x="436.15" y="114.80" width="5.45" height="6.45" fill="#5af822"/>
<rect x="408.90" y="120.25" width="6.45" height="5.45" fill="#5af822"/>
<rect x="414.35" y="120.25" width="6.45" height="5.45" fill="#5af822"/>
<rect x="419.80" y="120.25" width="6.45" height="5.45" fill="#5af822"/>
<rect x="425.25" y="120.25" width="6.45" height="5.45" fill="#229e1c"/>
<rect x="430.70" y="120.25" width="6.45" height="5.45" fill="#5af822"/>
<rect x="436.15" y="120.25" width="5.45" height="5.45" fill="#080808"/>
<text transform="translate(413.30,34.8) rotate(-90)" font-size="5.5" fill="#111" stroke="#111" stroke-width="0.18">IL2</text>
<text transform="translate(418.82,34.8) rotate(-90)" font-size="5.5" fill="#111" stroke="#111" stroke-width="0.18">CD28RE/AP1</text>
<text transform="translate(424.34,34.8) rotate(-90)" font-size="5.5" fill="#111" stroke="#111" stroke-width="0.18">AP1</text>
<text transform="translate(429.86,34.8) rotate(-90)" font-size="5.5" fill="#111" stroke="#111" stroke-width="0.18">CRE</text>
<text transform="translate(435.38,34.8) rotate(-90)" font-size="5.5" fill="#111" stroke="#111" stroke-width="0.18">NFκB</text>
<text transform="translate(440.90,34.8) rotate(-90)" font-size="5.5" fill="#111" stroke="#111" stroke-width="0.18">NFAT</text>
<rect x="446.10" y="38.50" width="6.45" height="6.45" fill="#5af822"/>
<rect x="451.55" y="38.50" width="6.45" height="6.45" fill="#5af822"/>
<rect x="457.00" y="38.50" width="6.45" height="6.45" fill="#5af822"/>
<rect x="462.45" y="38.50" width="6.45" height="6.45" fill="#48e01e"/>
<rect x="467.90" y="38.50" width="6.45" height="6.45" fill="#5af822"/>
<rect x="473.35" y="38.50" width="5.45" height="6.45" fill="#5af822"/>
<rect x="446.10" y="43.95" width="6.45" height="6.45" fill="#126010"/>
<rect x="451.55" y="43.95" width="6.45" height="6.45" fill="#126010"/>
<rect x="457.00" y="43.95" width="6.45" height="6.45" fill="#080808"/>
<rect x="462.45" y="43.95" width="6.45" height="6.45" fill="#126010"/>
<rect x="467.90" y="43.95" width="6.45" height="6.45" fill="#5af822"/>
<rect x="473.35" y="43.95" width="5.45" height="6.45" fill="#126010"/>
<rect x="446.10" y="49.40" width="6.45" height="6.45" fill="#5af822"/>
<rect x="451.55" y="49.40" width="6.45" height="6.45" fill="#5af822"/>
<rect x="457.00" y="49.40" width="6.45" height="6.45" fill="#5af822"/>
<rect x="462.45" y="49.40" width="6.45" height="6.45" fill="#48e01e"/>
<rect x="467.90" y="49.40" width="6.45" height="6.45" fill="#5af822"/>
<rect x="473.35" y="49.40" width="5.45" height="6.45" fill="#5af822"/>
<rect x="446.10" y="54.85" width="6.45" height="6.45" fill="#5af822"/>
<rect x="451.55" y="54.85" width="6.45" height="6.45" fill="#5af822"/>
<rect x="457.00" y="54.85" width="6.45" height="6.45" fill="#5af822"/>
<rect x="462.45" y="54.85" width="6.45" height="6.45" fill="#126010"/>
<rect x="467.90" y="54.85" width="6.45" height="6.45" fill="#5af822"/>
<rect x="473.35" y="54.85" width="5.45" height="6.45" fill="#080808"/>
<rect x="446.10" y="60.30" width="6.45" height="6.45" fill="#5af822"/>
<rect x="451.55" y="60.30" width="6.45" height="6.45" fill="#5af822"/>
<rect x="457.00" y="60.30" width="6.45" height="6.45" fill="#5af822"/>
<rect x="462.45" y="60.30" width="6.45" height="6.45" fill="#48e01e"/>
<rect x="467.90" y="60.30" width="6.45" height="6.45" fill="#5af822"/>
<rect x="473.35" y="60.30" width="5.45" height="6.45" fill="#5af822"/>
<rect x="446.10" y="65.75" width="6.45" height="6.45" fill="#5af822"/>
<rect x="451.55" y="65.75" width="6.45" height="6.45" fill="#5af822"/>
<rect x="457.00" y="65.75" width="6.45" height="6.45" fill="#5af822"/>
<rect x="462.45" y="65.75" width="6.45" height="6.45" fill="#48e01e"/>
<rect x="467.90" y="65.75" width="6.45" height="6.45" fill="#5af822"/>
<rect x="473.35" y="65.75" width="5.45" height="6.45" fill="#5af822"/>
<rect x="446.10" y="71.20" width="6.45" height="6.45" fill="#080808"/>
<rect x="451.55" y="71.20" width="6.45" height="6.45" fill="#080808"/>
<rect x="457.00" y="71.20" width="6.45" height="6.45" fill="#080808"/>
<rect x="462.45" y="71.20" width="6.45" height="6.45" fill="#080808"/>
<rect x="467.90" y="71.20" width="6.45" height="6.45" fill="#5af822"/>
<rect x="473.35" y="71.20" width="5.45" height="6.45" fill="#080808"/>
<rect x="446.10" y="76.65" width="6.45" height="6.45" fill="#080808"/>
<rect x="451.55" y="76.65" width="6.45" height="6.45" fill="#080808"/>
<rect x="457.00" y="76.65" width="6.45" height="6.45" fill="#ec202a"/>
<rect x="462.45" y="76.65" width="6.45" height="6.45" fill="#ec202a"/>
<rect x="467.90" y="76.65" width="6.45" height="6.45" fill="#5af822"/>
<rect x="473.35" y="76.65" width="5.45" height="6.45" fill="#ec202a"/>
<rect x="446.10" y="82.10" width="6.45" height="6.45" fill="#080808"/>
<rect x="451.55" y="82.10" width="6.45" height="6.45" fill="#080808"/>
<rect x="457.00" y="82.10" width="6.45" height="6.45" fill="#9a1010"/>
<rect x="462.45" y="82.10" width="6.45" height="6.45" fill="#080808"/>
<rect x="467.90" y="82.10" width="6.45" height="6.45" fill="#5af822"/>
<rect x="473.35" y="82.10" width="5.45" height="6.45" fill="#080808"/>
<rect x="446.10" y="87.55" width="6.45" height="6.45" fill="#080808"/>
<rect x="451.55" y="87.55" width="6.45" height="6.45" fill="#080808"/>
<rect x="457.00" y="87.55" width="6.45" height="6.45" fill="#6a0a0a"/>
<rect x="462.45" y="87.55" width="6.45" height="6.45" fill="#080808"/>
<rect x="467.90" y="87.55" width="6.45" height="6.45" fill="#5af822"/>
<rect x="473.35" y="87.55" width="5.45" height="6.45" fill="#080808"/>
<rect x="446.10" y="93.00" width="6.45" height="6.45" fill="#080808"/>
<rect x="451.55" y="93.00" width="6.45" height="6.45" fill="#080808"/>
<rect x="457.00" y="93.00" width="6.45" height="6.45" fill="#ec202a"/>
<rect x="462.45" y="93.00" width="6.45" height="6.45" fill="#080808"/>
<rect x="467.90" y="93.00" width="6.45" height="6.45" fill="#5af822"/>
<rect x="473.35" y="93.00" width="5.45" height="6.45" fill="#ec202a"/>
<rect x="446.10" y="98.45" width="6.45" height="6.45" fill="#080808"/>
<rect x="451.55" y="98.45" width="6.45" height="6.45" fill="#080808"/>
<rect x="457.00" y="98.45" width="6.45" height="6.45" fill="#ec202a"/>
<rect x="462.45" y="98.45" width="6.45" height="6.45" fill="#080808"/>
<rect x="467.90" y="98.45" width="6.45" height="6.45" fill="#5af822"/>
<rect x="473.35" y="98.45" width="5.45" height="6.45" fill="#080808"/>
<rect x="446.10" y="103.90" width="6.45" height="6.45" fill="#5af822"/>
<rect x="451.55" y="103.90" width="6.45" height="6.45" fill="#5af822"/>
<rect x="457.00" y="103.90" width="6.45" height="6.45" fill="#5af822"/>
<rect x="462.45" y="103.90" width="6.45" height="6.45" fill="#48e01e"/>
<rect x="467.90" y="103.90" width="6.45" height="6.45" fill="#5af822"/>
<rect x="473.35" y="103.90" width="5.45" height="6.45" fill="#5af822"/>
<rect x="446.10" y="109.35" width="6.45" height="6.45" fill="#080808"/>
<rect x="451.55" y="109.35" width="6.45" height="6.45" fill="#080808"/>
<rect x="457.00" y="109.35" width="6.45" height="6.45" fill="#ec202a"/>
<rect x="462.45" y="109.35" width="6.45" height="6.45" fill="#080808"/>
<rect x="467.90" y="109.35" width="6.45" height="6.45" fill="#5af822"/>
<rect x="473.35" y="109.35" width="5.45" height="6.45" fill="#080808"/>
<rect x="446.10" y="114.80" width="6.45" height="6.45" fill="#5af822"/>
<rect x="451.55" y="114.80" width="6.45" height="6.45" fill="#5af822"/>
<rect x="457.00" y="114.80" width="6.45" height="6.45" fill="#5af822"/>
<rect x="462.45" y="114.80" width="6.45" height="6.45" fill="#5af822"/>
<rect x="467.90" y="114.80" width="6.45" height="6.45" fill="#5af822"/>
<rect x="473.35" y="114.80" width="5.45" height="6.45" fill="#5af822"/>
<rect x="446.10" y="120.25" width="6.45" height="5.45" fill="#5af822"/>
<rect x="451.55" y="120.25" width="6.45" height="5.45" fill="#3ccc2c"/>
<rect x="457.00" y="120.25" width="6.45" height="5.45" fill="#5af822"/>
<rect x="462.45" y="120.25" width="6.45" height="5.45" fill="#126010"/>
<rect x="467.90" y="120.25" width="6.45" height="5.45" fill="#5af822"/>
<rect x="473.35" y="120.25" width="5.45" height="5.45" fill="#080808"/>
<text transform="translate(450.50,34.8) rotate(-90)" font-size="5.5" fill="#111" stroke="#111" stroke-width="0.18">IL2</text>
<text transform="translate(456.02,34.8) rotate(-90)" font-size="5.5" fill="#111" stroke="#111" stroke-width="0.18">CD28RE/AP1</text>
<text transform="translate(461.54,34.8) rotate(-90)" font-size="5.5" fill="#111" stroke="#111" stroke-width="0.18">AP1</text>
<text transform="translate(467.06,34.8) rotate(-90)" font-size="5.5" fill="#111" stroke="#111" stroke-width="0.18">CRE</text>
<text transform="translate(472.58,34.8) rotate(-90)" font-size="5.5" fill="#111" stroke="#111" stroke-width="0.18">NFκB</text>
<text transform="translate(478.10,34.8) rotate(-90)" font-size="5.5" fill="#111" stroke="#111" stroke-width="0.18">NFAT</text>
<rect x="334.60" y="177.60" width="6.37" height="6.45" fill="#5af822"/>
<rect x="339.97" y="177.60" width="6.37" height="6.45" fill="#5af822"/>
<rect x="345.33" y="177.60" width="6.37" height="6.45" fill="#5af822"/>
<rect x="350.70" y="177.60" width="6.37" height="6.45" fill="#5af822"/>
<rect x="356.07" y="177.60" width="6.37" height="6.45" fill="#5af822"/>
<rect x="361.43" y="177.60" width="5.37" height="6.45" fill="#5af822"/>
<rect x="334.60" y="183.05" width="6.37" height="6.45" fill="#080808"/>
<rect x="339.97" y="183.05" width="6.37" height="6.45" fill="#229e1c"/>
<rect x="345.33" y="183.05" width="6.37" height="6.45" fill="#126010"/>
<rect x="350.70" y="183.05" width="6.37" height="6.45" fill="#080808"/>
<rect x="356.07" y="183.05" width="6.37" height="6.45" fill="#5af822"/>
<rect x="361.43" y="183.05" width="5.37" height="6.45" fill="#5af822"/>
<rect x="334.60" y="188.50" width="6.37" height="6.45" fill="#5af822"/>
<rect x="339.97" y="188.50" width="6.37" height="6.45" fill="#5af822"/>
<rect x="345.33" y="188.50" width="6.37" height="6.45" fill="#5af822"/>
<rect x="350.70" y="188.50" width="6.37" height="6.45" fill="#5af822"/>
<rect x="356.07" y="188.50" width="6.37" height="6.45" fill="#5af822"/>
<rect x="361.43" y="188.50" width="5.37" height="6.45" fill="#5af822"/>
<rect x="334.60" y="193.95" width="6.37" height="6.45" fill="#126010"/>
<rect x="339.97" y="193.95" width="6.37" height="6.45" fill="#5af822"/>
<rect x="345.33" y="193.95" width="6.37" height="6.45" fill="#5af822"/>
<rect x="350.70" y="193.95" width="6.37" height="6.45" fill="#5af822"/>
<rect x="356.07" y="193.95" width="6.37" height="6.45" fill="#5af822"/>
<rect x="361.43" y="193.95" width="5.37" height="6.45" fill="#126010"/>
<rect x="334.60" y="199.40" width="6.37" height="6.45" fill="#5af822"/>
<rect x="339.97" y="199.40" width="6.37" height="6.45" fill="#5af822"/>
<rect x="345.33" y="199.40" width="6.37" height="6.45" fill="#5af822"/>
<rect x="350.70" y="199.40" width="6.37" height="6.45" fill="#5af822"/>
<rect x="356.07" y="199.40" width="6.37" height="6.45" fill="#5af822"/>
<rect x="361.43" y="199.40" width="5.37" height="6.45" fill="#5af822"/>
<rect x="334.60" y="204.85" width="6.37" height="6.45" fill="#5af822"/>
<rect x="339.97" y="204.85" width="6.37" height="6.45" fill="#5af822"/>
<rect x="345.33" y="204.85" width="6.37" height="6.45" fill="#5af822"/>
<rect x="350.70" y="204.85" width="6.37" height="6.45" fill="#5af822"/>
<rect x="356.07" y="204.85" width="6.37" height="6.45" fill="#5af822"/>
<rect x="361.43" y="204.85" width="5.37" height="6.45" fill="#5af822"/>
<rect x="334.60" y="210.30" width="6.37" height="6.45" fill="#080808"/>
<rect x="339.97" y="210.30" width="6.37" height="6.45" fill="#229e1c"/>
<rect x="345.33" y="210.30" width="6.37" height="6.45" fill="#080808"/>
<rect x="350.70" y="210.30" width="6.37" height="6.45" fill="#080808"/>
<rect x="356.07" y="210.30" width="6.37" height="6.45" fill="#5af822"/>
<rect x="361.43" y="210.30" width="5.37" height="6.45" fill="#5af822"/>
<rect x="334.60" y="215.75" width="6.37" height="6.45" fill="#080808"/>
<rect x="339.97" y="215.75" width="6.37" height="6.45" fill="#080808"/>
<rect x="345.33" y="215.75" width="6.37" height="6.45" fill="#6a0a0a"/>
<rect x="350.70" y="215.75" width="6.37" height="6.45" fill="#ec202a"/>
<rect x="356.07" y="215.75" width="6.37" height="6.45" fill="#126010"/>
<rect x="361.43" y="215.75" width="5.37" height="6.45" fill="#126010"/>
<rect x="334.60" y="221.20" width="6.37" height="6.45" fill="#080808"/>
<rect x="339.97" y="221.20" width="6.37" height="6.45" fill="#229e1c"/>
<rect x="345.33" y="221.20" width="6.37" height="6.45" fill="#080808"/>
<rect x="350.70" y="221.20" width="6.37" height="6.45" fill="#080808"/>
<rect x="356.07" y="221.20" width="6.37" height="6.45" fill="#5af822"/>
<rect x="361.43" y="221.20" width="5.37" height="6.45" fill="#5af822"/>
<rect x="334.60" y="226.65" width="6.37" height="6.45" fill="#080808"/>
<rect x="339.97" y="226.65" width="6.37" height="6.45" fill="#080808"/>
<rect x="345.33" y="226.65" width="6.37" height="6.45" fill="#080808"/>
<rect x="350.70" y="226.65" width="6.37" height="6.45" fill="#080808"/>
<rect x="356.07" y="226.65" width="6.37" height="6.45" fill="#5af822"/>
<rect x="361.43" y="226.65" width="5.37" height="6.45" fill="#5af822"/>
<rect x="334.60" y="232.10" width="6.37" height="6.45" fill="#ec202a"/>
<rect x="339.97" y="232.10" width="6.37" height="6.45" fill="#ec202a"/>
<rect x="345.33" y="232.10" width="6.37" height="6.45" fill="#ec202a"/>
<rect x="350.70" y="232.10" width="6.37" height="6.45" fill="#ec202a"/>
<rect x="356.07" y="232.10" width="6.37" height="6.45" fill="#080808"/>
<rect x="361.43" y="232.10" width="5.37" height="6.45" fill="#126010"/>
<rect x="334.60" y="237.55" width="6.37" height="6.45" fill="#126010"/>
<rect x="339.97" y="237.55" width="6.37" height="6.45" fill="#080808"/>
<rect x="345.33" y="237.55" width="6.37" height="6.45" fill="#080808"/>
<rect x="350.70" y="237.55" width="6.37" height="6.45" fill="#080808"/>
<rect x="356.07" y="237.55" width="6.37" height="6.45" fill="#3ccc2c"/>
<rect x="361.43" y="237.55" width="5.37" height="6.45" fill="#5af822"/>
<rect x="334.60" y="243.00" width="6.37" height="6.45" fill="#5af822"/>
<rect x="339.97" y="243.00" width="6.37" height="6.45" fill="#5af822"/>
<rect x="345.33" y="243.00" width="6.37" height="6.45" fill="#5af822"/>
<rect x="350.70" y="243.00" width="6.37" height="6.45" fill="#5af822"/>
<rect x="356.07" y="243.00" width="6.37" height="6.45" fill="#5af822"/>
<rect x="361.43" y="243.00" width="5.37" height="6.45" fill="#5af822"/>
<rect x="334.60" y="248.45" width="6.37" height="6.45" fill="#080808"/>
<rect x="339.97" y="248.45" width="6.37" height="6.45" fill="#080808"/>
<rect x="345.33" y="248.45" width="6.37" height="6.45" fill="#080808"/>
<rect x="350.70" y="248.45" width="6.37" height="6.45" fill="#080808"/>
<rect x="356.07" y="248.45" width="6.37" height="6.45" fill="#5af822"/>
<rect x="361.43" y="248.45" width="5.37" height="6.45" fill="#5af822"/>
<rect x="334.60" y="253.90" width="6.37" height="6.45" fill="#5af822"/>
<rect x="339.97" y="253.90" width="6.37" height="6.45" fill="#5af822"/>
<rect x="345.33" y="253.90" width="6.37" height="6.45" fill="#5af822"/>
<rect x="350.70" y="253.90" width="6.37" height="6.45" fill="#5af822"/>
<rect x="356.07" y="253.90" width="6.37" height="6.45" fill="#5af822"/>
<rect x="361.43" y="253.90" width="5.37" height="6.45" fill="#5af822"/>
<rect x="334.60" y="259.35" width="6.37" height="5.45" fill="#080808"/>
<rect x="339.97" y="259.35" width="6.37" height="5.45" fill="#5af822"/>
<rect x="345.33" y="259.35" width="6.37" height="5.45" fill="#5af822"/>
<rect x="350.70" y="259.35" width="6.37" height="5.45" fill="#5af822"/>
<rect x="356.07" y="259.35" width="6.37" height="5.45" fill="#5af822"/>
<rect x="361.43" y="259.35" width="5.37" height="5.45" fill="#080808"/>
<text transform="translate(339.00,175.0) rotate(-90)" font-size="5.5" fill="#111" stroke="#111" stroke-width="0.04">IL2</text>
<text transform="translate(344.52,175.0) rotate(-90)" font-size="5.5" fill="#111" stroke="#111" stroke-width="0.04">CD28RE/AP1</text>
<text transform="translate(350.04,175.0) rotate(-90)" font-size="5.5" fill="#111" stroke="#111" stroke-width="0.04">AP1</text>
<text transform="translate(355.56,175.0) rotate(-90)" font-size="5.5" fill="#111" stroke="#111" stroke-width="0.04">CRE</text>
<text transform="translate(361.08,175.0) rotate(-90)" font-size="5.5" fill="#111" stroke="#111" stroke-width="0.04">NFκB</text>
<text transform="translate(366.60,175.0) rotate(-90)" font-size="5.5" fill="#111" stroke="#111" stroke-width="0.04">NFAT</text>
<rect x="372.10" y="177.60" width="6.37" height="6.45" fill="#5af822"/>
<rect x="377.47" y="177.60" width="6.37" height="6.45" fill="#5af822"/>
<rect x="382.83" y="177.60" width="6.37" height="6.45" fill="#5af822"/>
<rect x="388.20" y="177.60" width="6.37" height="6.45" fill="#5af822"/>
<rect x="393.57" y="177.60" width="6.37" height="6.45" fill="#5af822"/>
<rect x="398.93" y="177.60" width="5.37" height="6.45" fill="#5af822"/>
<rect x="372.10" y="183.05" width="6.37" height="6.45" fill="#080808"/>
<rect x="377.47" y="183.05" width="6.37" height="6.45" fill="#080808"/>
<rect x="382.83" y="183.05" width="6.37" height="6.45" fill="#229e1c"/>
<rect x="388.20" y="183.05" width="6.37" height="6.45" fill="#080808"/>
<rect x="393.57" y="183.05" width="6.37" height="6.45" fill="#5af822"/>
<rect x="398.93" y="183.05" width="5.37" height="6.45" fill="#229e1c"/>
<rect x="372.10" y="188.50" width="6.37" height="6.45" fill="#5af822"/>
<rect x="377.47" y="188.50" width="6.37" height="6.45" fill="#5af822"/>
<rect x="382.83" y="188.50" width="6.37" height="6.45" fill="#5af822"/>
<rect x="388.20" y="188.50" width="6.37" height="6.45" fill="#5af822"/>
<rect x="393.57" y="188.50" width="6.37" height="6.45" fill="#5af822"/>
<rect x="398.93" y="188.50" width="5.37" height="6.45" fill="#5af822"/>
<rect x="372.10" y="193.95" width="6.37" height="6.45" fill="#126010"/>
<rect x="377.47" y="193.95" width="6.37" height="6.45" fill="#5af822"/>
<rect x="382.83" y="193.95" width="6.37" height="6.45" fill="#5af822"/>
<rect x="388.20" y="193.95" width="6.37" height="6.45" fill="#5af822"/>
<rect x="393.57" y="193.95" width="6.37" height="6.45" fill="#5af822"/>
<rect x="398.93" y="193.95" width="5.37" height="6.45" fill="#080808"/>
<rect x="372.10" y="199.40" width="6.37" height="6.45" fill="#5af822"/>
<rect x="377.47" y="199.40" width="6.37" height="6.45" fill="#5af822"/>
<rect x="382.83" y="199.40" width="6.37" height="6.45" fill="#5af822"/>
<rect x="388.20" y="199.40" width="6.37" height="6.45" fill="#5af822"/>
<rect x="393.57" y="199.40" width="6.37" height="6.45" fill="#5af822"/>
<rect x="398.93" y="199.40" width="5.37" height="6.45" fill="#5af822"/>
<rect x="372.10" y="204.85" width="6.37" height="6.45" fill="#5af822"/>
<rect x="377.47" y="204.85" width="6.37" height="6.45" fill="#5af822"/>
<rect x="382.83" y="204.85" width="6.37" height="6.45" fill="#5af822"/>
<rect x="388.20" y="204.85" width="6.37" height="6.45" fill="#5af822"/>
<rect x="393.57" y="204.85" width="6.37" height="6.45" fill="#5af822"/>
<rect x="398.93" y="204.85" width="5.37" height="6.45" fill="#5af822"/>
<rect x="372.10" y="210.30" width="6.37" height="6.45" fill="#080808"/>
<rect x="377.47" y="210.30" width="6.37" height="6.45" fill="#080808"/>
<rect x="382.83" y="210.30" width="6.37" height="6.45" fill="#126010"/>
<rect x="388.20" y="210.30" width="6.37" height="6.45" fill="#080808"/>
<rect x="393.57" y="210.30" width="6.37" height="6.45" fill="#5af822"/>
<rect x="398.93" y="210.30" width="5.37" height="6.45" fill="#229e1c"/>
<rect x="372.10" y="215.75" width="6.37" height="6.45" fill="#6a0a0a"/>
<rect x="377.47" y="215.75" width="6.37" height="6.45" fill="#080808"/>
<rect x="382.83" y="215.75" width="6.37" height="6.45" fill="#6a0a0a"/>
<rect x="388.20" y="215.75" width="6.37" height="6.45" fill="#6a0a0a"/>
<rect x="393.57" y="215.75" width="6.37" height="6.45" fill="#080808"/>
<rect x="398.93" y="215.75" width="5.37" height="6.45" fill="#080808"/>
<rect x="372.10" y="221.20" width="6.37" height="6.45" fill="#080808"/>
<rect x="377.47" y="221.20" width="6.37" height="6.45" fill="#080808"/>
<rect x="382.83" y="221.20" width="6.37" height="6.45" fill="#229e1c"/>
<rect x="388.20" y="221.20" width="6.37" height="6.45" fill="#080808"/>
<rect x="393.57" y="221.20" width="6.37" height="6.45" fill="#5af822"/>
<rect x="398.93" y="221.20" width="5.37" height="6.45" fill="#5af822"/>
<rect x="372.10" y="226.65" width="6.37" height="6.45" fill="#080808"/>
<rect x="377.47" y="226.65" width="6.37" height="6.45" fill="#ec202a"/>
<rect x="382.83" y="226.65" width="6.37" height="6.45" fill="#080808"/>
<rect x="388.20" y="226.65" width="6.37" height="6.45" fill="#080808"/>
<rect x="393.57" y="226.65" width="6.37" height="6.45" fill="#126010"/>
<rect x="398.93" y="226.65" width="5.37" height="6.45" fill="#5af822"/>
<rect x="372.10" y="232.10" width="6.37" height="6.45" fill="#ec202a"/>
<rect x="377.47" y="232.10" width="6.37" height="6.45" fill="#ec202a"/>
<rect x="382.83" y="232.10" width="6.37" height="6.45" fill="#080808"/>
<rect x="388.20" y="232.10" width="6.37" height="6.45" fill="#ec202a"/>
<rect x="393.57" y="232.10" width="6.37" height="6.45" fill="#ec202a"/>
<rect x="398.93" y="232.10" width="5.37" height="6.45" fill="#080808"/>
<rect x="372.10" y="237.55" width="6.37" height="6.45" fill="#080808"/>
<rect x="377.47" y="237.55" width="6.37" height="6.45" fill="#6a0a0a"/>
<rect x="382.83" y="237.55" width="6.37" height="6.45" fill="#080808"/>
<rect x="388.20" y="237.55" width="6.37" height="6.45" fill="#080808"/>
<rect x="393.57" y="237.55" width="6.37" height="6.45" fill="#126010"/>
<rect x="398.93" y="237.55" width="5.37" height="6.45" fill="#5af822"/>
<rect x="372.10" y="243.00" width="6.37" height="6.45" fill="#5af822"/>
<rect x="377.47" y="243.00" width="6.37" height="6.45" fill="#5af822"/>
<rect x="382.83" y="243.00" width="6.37" height="6.45" fill="#5af822"/>
<rect x="388.20" y="243.00" width="6.37" height="6.45" fill="#5af822"/>
<rect x="393.57" y="243.00" width="6.37" height="6.45" fill="#5af822"/>
<rect x="398.93" y="243.00" width="5.37" height="6.45" fill="#5af822"/>
<rect x="372.10" y="248.45" width="6.37" height="6.45" fill="#126010"/>
<rect x="377.47" y="248.45" width="6.37" height="6.45" fill="#6a0a0a"/>
<rect x="382.83" y="248.45" width="6.37" height="6.45" fill="#080808"/>
<rect x="388.20" y="248.45" width="6.37" height="6.45" fill="#6a0a0a"/>
<rect x="393.57" y="248.45" width="6.37" height="6.45" fill="#080808"/>
<rect x="398.93" y="248.45" width="5.37" height="6.45" fill="#5af822"/>
<rect x="372.10" y="253.90" width="6.37" height="6.45" fill="#5af822"/>
<rect x="377.47" y="253.90" width="6.37" height="6.45" fill="#5af822"/>
<rect x="382.83" y="253.90" width="6.37" height="6.45" fill="#5af822"/>
<rect x="388.20" y="253.90" width="6.37" height="6.45" fill="#5af822"/>
<rect x="393.57" y="253.90" width="6.37" height="6.45" fill="#5af822"/>
<rect x="398.93" y="253.90" width="5.37" height="6.45" fill="#5af822"/>
<rect x="372.10" y="259.35" width="6.37" height="5.45" fill="#126010"/>
<rect x="377.47" y="259.35" width="6.37" height="5.45" fill="#229e1c"/>
<rect x="382.83" y="259.35" width="6.37" height="5.45" fill="#5af822"/>
<rect x="388.20" y="259.35" width="6.37" height="5.45" fill="#5af822"/>
<rect x="393.57" y="259.35" width="6.37" height="5.45" fill="#5af822"/>
<rect x="398.93" y="259.35" width="5.37" height="5.45" fill="#080808"/>
<text transform="translate(376.50,175.0) rotate(-90)" font-size="5.5" fill="#111" stroke="#111" stroke-width="0.04">IL2</text>
<text transform="translate(382.02,175.0) rotate(-90)" font-size="5.5" fill="#111" stroke="#111" stroke-width="0.04">CD28RE/AP1</text>
<text transform="translate(387.54,175.0) rotate(-90)" font-size="5.5" fill="#111" stroke="#111" stroke-width="0.04">AP1</text>
<text transform="translate(393.06,175.0) rotate(-90)" font-size="5.5" fill="#111" stroke="#111" stroke-width="0.04">CRE</text>
<text transform="translate(398.58,175.0) rotate(-90)" font-size="5.5" fill="#111" stroke="#111" stroke-width="0.04">NFκB</text>
<text transform="translate(404.10,175.0) rotate(-90)" font-size="5.5" fill="#111" stroke="#111" stroke-width="0.04">NFAT</text>
<rect x="410.10" y="177.60" width="6.28" height="6.45" fill="#5af822"/>
<rect x="415.38" y="177.60" width="6.28" height="6.45" fill="#5af822"/>
<rect x="420.67" y="177.60" width="6.28" height="6.45" fill="#5af822"/>
<rect x="425.95" y="177.60" width="6.28" height="6.45" fill="#5af822"/>
<rect x="431.23" y="177.60" width="6.28" height="6.45" fill="#5af822"/>
<rect x="436.52" y="177.60" width="5.28" height="6.45" fill="#5af822"/>
<rect x="410.10" y="183.05" width="6.28" height="6.45" fill="#126010"/>
<rect x="415.38" y="183.05" width="6.28" height="6.45" fill="#5af822"/>
<rect x="420.67" y="183.05" width="6.28" height="6.45" fill="#080808"/>
<rect x="425.95" y="183.05" width="6.28" height="6.45" fill="#126010"/>
<rect x="431.23" y="183.05" width="6.28" height="6.45" fill="#3ccc2c"/>
<rect x="436.52" y="183.05" width="5.28" height="6.45" fill="#5af822"/>
<rect x="410.10" y="188.50" width="6.28" height="6.45" fill="#5af822"/>
<rect x="415.38" y="188.50" width="6.28" height="6.45" fill="#5af822"/>
<rect x="420.67" y="188.50" width="6.28" height="6.45" fill="#5af822"/>
<rect x="425.95" y="188.50" width="6.28" height="6.45" fill="#5af822"/>
<rect x="431.23" y="188.50" width="6.28" height="6.45" fill="#5af822"/>
<rect x="436.52" y="188.50" width="5.28" height="6.45" fill="#5af822"/>
<rect x="410.10" y="193.95" width="6.28" height="6.45" fill="#080808"/>
<rect x="415.38" y="193.95" width="6.28" height="6.45" fill="#5af822"/>
<rect x="420.67" y="193.95" width="6.28" height="6.45" fill="#5af822"/>
<rect x="425.95" y="193.95" width="6.28" height="6.45" fill="#3ccc2c"/>
<rect x="431.23" y="193.95" width="6.28" height="6.45" fill="#5af822"/>
<rect x="436.52" y="193.95" width="5.28" height="6.45" fill="#126010"/>
<rect x="410.10" y="199.40" width="6.28" height="6.45" fill="#5af822"/>
<rect x="415.38" y="199.40" width="6.28" height="6.45" fill="#5af822"/>
<rect x="420.67" y="199.40" width="6.28" height="6.45" fill="#5af822"/>
<rect x="425.95" y="199.40" width="6.28" height="6.45" fill="#5af822"/>
<rect x="431.23" y="199.40" width="6.28" height="6.45" fill="#5af822"/>
<rect x="436.52" y="199.40" width="5.28" height="6.45" fill="#5af822"/>
<rect x="410.10" y="204.85" width="6.28" height="6.45" fill="#5af822"/>
<rect x="415.38" y="204.85" width="6.28" height="6.45" fill="#5af822"/>
<rect x="420.67" y="204.85" width="6.28" height="6.45" fill="#5af822"/>
<rect x="425.95" y="204.85" width="6.28" height="6.45" fill="#5af822"/>
<rect x="431.23" y="204.85" width="6.28" height="6.45" fill="#5af822"/>
<rect x="436.52" y="204.85" width="5.28" height="6.45" fill="#5af822"/>
<rect x="410.10" y="210.30" width="6.28" height="6.45" fill="#126010"/>
<rect x="415.38" y="210.30" width="6.28" height="6.45" fill="#126010"/>
<rect x="420.67" y="210.30" width="6.28" height="6.45" fill="#080808"/>
<rect x="425.95" y="210.30" width="6.28" height="6.45" fill="#126010"/>
<rect x="431.23" y="210.30" width="6.28" height="6.45" fill="#5af822"/>
<rect x="436.52" y="210.30" width="5.28" height="6.45" fill="#229e1c"/>
<rect x="410.10" y="215.75" width="6.28" height="6.45" fill="#080808"/>
<rect x="415.38" y="215.75" width="6.28" height="6.45" fill="#080808"/>
<rect x="420.67" y="215.75" width="6.28" height="6.45" fill="#6a0a0a"/>
<rect x="425.95" y="215.75" width="6.28" height="6.45" fill="#080808"/>
<rect x="431.23" y="215.75" width="6.28" height="6.45" fill="#080808"/>
<rect x="436.52" y="215.75" width="5.28" height="6.45" fill="#080808"/>
<rect x="410.10" y="221.20" width="6.28" height="6.45" fill="#229e1c"/>
<rect x="415.38" y="221.20" width="6.28" height="6.45" fill="#229e1c"/>
<rect x="420.67" y="221.20" width="6.28" height="6.45" fill="#6a0a0a"/>
<rect x="425.95" y="221.20" width="6.28" height="6.45" fill="#126010"/>
<rect x="431.23" y="221.20" width="6.28" height="6.45" fill="#080808"/>
<rect x="436.52" y="221.20" width="5.28" height="6.45" fill="#5af822"/>
<rect x="410.10" y="226.65" width="6.28" height="6.45" fill="#080808"/>
<rect x="415.38" y="226.65" width="6.28" height="6.45" fill="#080808"/>
<rect x="420.67" y="226.65" width="6.28" height="6.45" fill="#080808"/>
<rect x="425.95" y="226.65" width="6.28" height="6.45" fill="#126010"/>
<rect x="431.23" y="226.65" width="6.28" height="6.45" fill="#080808"/>
<rect x="436.52" y="226.65" width="5.28" height="6.45" fill="#5af822"/>
<rect x="410.10" y="232.10" width="6.28" height="6.45" fill="#080808"/>
<rect x="415.38" y="232.10" width="6.28" height="6.45" fill="#ec202a"/>
<rect x="420.67" y="232.10" width="6.28" height="6.45" fill="#080808"/>
<rect x="425.95" y="232.10" width="6.28" height="6.45" fill="#080808"/>
<rect x="431.23" y="232.10" width="6.28" height="6.45" fill="#6a0a0a"/>
<rect x="436.52" y="232.10" width="5.28" height="6.45" fill="#080808"/>
<rect x="410.10" y="237.55" width="6.28" height="6.45" fill="#080808"/>
<rect x="415.38" y="237.55" width="6.28" height="6.45" fill="#080808"/>
<rect x="420.67" y="237.55" width="6.28" height="6.45" fill="#6a0a0a"/>
<rect x="425.95" y="237.55" width="6.28" height="6.45" fill="#080808"/>
<rect x="431.23" y="237.55" width="6.28" height="6.45" fill="#080808"/>
<rect x="436.52" y="237.55" width="5.28" height="6.45" fill="#5af822"/>
<rect x="410.10" y="243.00" width="6.28" height="6.45" fill="#5af822"/>
<rect x="415.38" y="243.00" width="6.28" height="6.45" fill="#5af822"/>
<rect x="420.67" y="243.00" width="6.28" height="6.45" fill="#5af822"/>
<rect x="425.95" y="243.00" width="6.28" height="6.45" fill="#5af822"/>
<rect x="431.23" y="243.00" width="6.28" height="6.45" fill="#5af822"/>
<rect x="436.52" y="243.00" width="5.28" height="6.45" fill="#5af822"/>
<rect x="410.10" y="248.45" width="6.28" height="6.45" fill="#126010"/>
<rect x="415.38" y="248.45" width="6.28" height="6.45" fill="#080808"/>
<rect x="420.67" y="248.45" width="6.28" height="6.45" fill="#6a0a0a"/>
<rect x="425.95" y="248.45" width="6.28" height="6.45" fill="#229e1c"/>
<rect x="431.23" y="248.45" width="6.28" height="6.45" fill="#080808"/>
<rect x="436.52" y="248.45" width="5.28" height="6.45" fill="#5af822"/>
<rect x="410.10" y="253.90" width="6.28" height="6.45" fill="#5af822"/>
<rect x="415.38" y="253.90" width="6.28" height="6.45" fill="#5af822"/>
<rect x="420.67" y="253.90" width="6.28" height="6.45" fill="#5af822"/>
<rect x="425.95" y="253.90" width="6.28" height="6.45" fill="#5af822"/>
<rect x="431.23" y="253.90" width="6.28" height="6.45" fill="#5af822"/>
<rect x="436.52" y="253.90" width="5.28" height="6.45" fill="#5af822"/>
<rect x="410.10" y="259.35" width="6.28" height="5.45" fill="#080808"/>
<rect x="415.38" y="259.35" width="6.28" height="5.45" fill="#5af822"/>
<rect x="420.67" y="259.35" width="6.28" height="5.45" fill="#5af822"/>
<rect x="425.95" y="259.35" width="6.28" height="5.45" fill="#5af822"/>
<rect x="431.23" y="259.35" width="6.28" height="5.45" fill="#5af822"/>
<rect x="436.52" y="259.35" width="5.28" height="5.45" fill="#080808"/>
<text transform="translate(414.50,175.0) rotate(-90)" font-size="5.5" fill="#111" stroke="#111" stroke-width="0.04">IL2</text>
<text transform="translate(420.02,175.0) rotate(-90)" font-size="5.5" fill="#111" stroke="#111" stroke-width="0.04">CD28RE/AP1</text>
<text transform="translate(425.54,175.0) rotate(-90)" font-size="5.5" fill="#111" stroke="#111" stroke-width="0.04">AP1</text>
<text transform="translate(431.06,175.0) rotate(-90)" font-size="5.5" fill="#111" stroke="#111" stroke-width="0.04">CRE</text>
<text transform="translate(436.58,175.0) rotate(-90)" font-size="5.5" fill="#111" stroke="#111" stroke-width="0.04">NFκB</text>
<text transform="translate(442.10,175.0) rotate(-90)" font-size="5.5" fill="#111" stroke="#111" stroke-width="0.04">NFAT</text>
<rect x="448.60" y="177.60" width="6.38" height="6.45" fill="#5af822"/>
<rect x="453.98" y="177.60" width="6.38" height="6.45" fill="#5af822"/>
<rect x="459.37" y="177.60" width="6.38" height="6.45" fill="#5af822"/>
<rect x="464.75" y="177.60" width="6.38" height="6.45" fill="#5af822"/>
<rect x="470.13" y="177.60" width="6.38" height="6.45" fill="#5af822"/>
<rect x="475.52" y="177.60" width="5.38" height="6.45" fill="#5af822"/>
<rect x="448.60" y="183.05" width="6.38" height="6.45" fill="#229e1c"/>
<rect x="453.98" y="183.05" width="6.38" height="6.45" fill="#080808"/>
<rect x="459.37" y="183.05" width="6.38" height="6.45" fill="#080808"/>
<rect x="464.75" y="183.05" width="6.38" height="6.45" fill="#126010"/>
<rect x="470.13" y="183.05" width="6.38" height="6.45" fill="#5af822"/>
<rect x="475.52" y="183.05" width="5.38" height="6.45" fill="#5af822"/>
<rect x="448.60" y="188.50" width="6.38" height="6.45" fill="#5af822"/>
<rect x="453.98" y="188.50" width="6.38" height="6.45" fill="#5af822"/>
<rect x="459.37" y="188.50" width="6.38" height="6.45" fill="#5af822"/>
<rect x="464.75" y="188.50" width="6.38" height="6.45" fill="#5af822"/>
<rect x="470.13" y="188.50" width="6.38" height="6.45" fill="#5af822"/>
<rect x="475.52" y="188.50" width="5.38" height="6.45" fill="#5af822"/>
<rect x="448.60" y="193.95" width="6.38" height="6.45" fill="#229e1c"/>
<rect x="453.98" y="193.95" width="6.38" height="6.45" fill="#5af822"/>
<rect x="459.37" y="193.95" width="6.38" height="6.45" fill="#5af822"/>
<rect x="464.75" y="193.95" width="6.38" height="6.45" fill="#5af822"/>
<rect x="470.13" y="193.95" width="6.38" height="6.45" fill="#5af822"/>
<rect x="475.52" y="193.95" width="5.38" height="6.45" fill="#080808"/>
<rect x="448.60" y="199.40" width="6.38" height="6.45" fill="#5af822"/>
<rect x="453.98" y="199.40" width="6.38" height="6.45" fill="#5af822"/>
<rect x="459.37" y="199.40" width="6.38" height="6.45" fill="#5af822"/>
<rect x="464.75" y="199.40" width="6.38" height="6.45" fill="#5af822"/>
<rect x="470.13" y="199.40" width="6.38" height="6.45" fill="#5af822"/>
<rect x="475.52" y="199.40" width="5.38" height="6.45" fill="#5af822"/>
<rect x="448.60" y="204.85" width="6.38" height="6.45" fill="#5af822"/>
<rect x="453.98" y="204.85" width="6.38" height="6.45" fill="#5af822"/>
<rect x="459.37" y="204.85" width="6.38" height="6.45" fill="#5af822"/>
<rect x="464.75" y="204.85" width="6.38" height="6.45" fill="#5af822"/>
<rect x="470.13" y="204.85" width="6.38" height="6.45" fill="#5af822"/>
<rect x="475.52" y="204.85" width="5.38" height="6.45" fill="#5af822"/>
<rect x="448.60" y="210.30" width="6.38" height="6.45" fill="#3ccc2c"/>
<rect x="453.98" y="210.30" width="6.38" height="6.45" fill="#080808"/>
<rect x="459.37" y="210.30" width="6.38" height="6.45" fill="#080808"/>
<rect x="464.75" y="210.30" width="6.38" height="6.45" fill="#080808"/>
<rect x="470.13" y="210.30" width="6.38" height="6.45" fill="#5af822"/>
<rect x="475.52" y="210.30" width="5.38" height="6.45" fill="#5af822"/>
<rect x="448.60" y="215.75" width="6.38" height="6.45" fill="#126010"/>
<rect x="453.98" y="215.75" width="6.38" height="6.45" fill="#080808"/>
<rect x="459.37" y="215.75" width="6.38" height="6.45" fill="#ec202a"/>
<rect x="464.75" y="215.75" width="6.38" height="6.45" fill="#6a0a0a"/>
<rect x="470.13" y="215.75" width="6.38" height="6.45" fill="#080808"/>
<rect x="475.52" y="215.75" width="5.38" height="6.45" fill="#126010"/>
<rect x="448.60" y="221.20" width="6.38" height="6.45" fill="#229e1c"/>
<rect x="453.98" y="221.20" width="6.38" height="6.45" fill="#080808"/>
<rect x="459.37" y="221.20" width="6.38" height="6.45" fill="#080808"/>
<rect x="464.75" y="221.20" width="6.38" height="6.45" fill="#080808"/>
<rect x="470.13" y="221.20" width="6.38" height="6.45" fill="#5af822"/>
<rect x="475.52" y="221.20" width="5.38" height="6.45" fill="#5af822"/>
<rect x="448.60" y="226.65" width="6.38" height="6.45" fill="#229e1c"/>
<rect x="453.98" y="226.65" width="6.38" height="6.45" fill="#ec202a"/>
<rect x="459.37" y="226.65" width="6.38" height="6.45" fill="#080808"/>
<rect x="464.75" y="226.65" width="6.38" height="6.45" fill="#080808"/>
<rect x="470.13" y="226.65" width="6.38" height="6.45" fill="#126010"/>
<rect x="475.52" y="226.65" width="5.38" height="6.45" fill="#5af822"/>
<rect x="448.60" y="232.10" width="6.38" height="6.45" fill="#126010"/>
<rect x="453.98" y="232.10" width="6.38" height="6.45" fill="#6a0a0a"/>
<rect x="459.37" y="232.10" width="6.38" height="6.45" fill="#ec202a"/>
<rect x="464.75" y="232.10" width="6.38" height="6.45" fill="#6a0a0a"/>
<rect x="470.13" y="232.10" width="6.38" height="6.45" fill="#ec202a"/>
<rect x="475.52" y="232.10" width="5.38" height="6.45" fill="#126010"/>
<rect x="448.60" y="237.55" width="6.38" height="6.45" fill="#3ccc2c"/>
<rect x="453.98" y="237.55" width="6.38" height="6.45" fill="#080808"/>
<rect x="459.37" y="237.55" width="6.38" height="6.45" fill="#080808"/>
<rect x="464.75" y="237.55" width="6.38" height="6.45" fill="#080808"/>
<rect x="470.13" y="237.55" width="6.38" height="6.45" fill="#126010"/>
<rect x="475.52" y="237.55" width="5.38" height="6.45" fill="#5af822"/>
<rect x="448.60" y="243.00" width="6.38" height="6.45" fill="#5af822"/>
<rect x="453.98" y="243.00" width="6.38" height="6.45" fill="#5af822"/>
<rect x="459.37" y="243.00" width="6.38" height="6.45" fill="#5af822"/>
<rect x="464.75" y="243.00" width="6.38" height="6.45" fill="#5af822"/>
<rect x="470.13" y="243.00" width="6.38" height="6.45" fill="#5af822"/>
<rect x="475.52" y="243.00" width="5.38" height="6.45" fill="#5af822"/>
<rect x="448.60" y="248.45" width="6.38" height="6.45" fill="#126010"/>
<rect x="453.98" y="248.45" width="6.38" height="6.45" fill="#6a0a0a"/>
<rect x="459.37" y="248.45" width="6.38" height="6.45" fill="#080808"/>
<rect x="464.75" y="248.45" width="6.38" height="6.45" fill="#6a0a0a"/>
<rect x="470.13" y="248.45" width="6.38" height="6.45" fill="#080808"/>
<rect x="475.52" y="248.45" width="5.38" height="6.45" fill="#5af822"/>
<rect x="448.60" y="253.90" width="6.38" height="6.45" fill="#5af822"/>
<rect x="453.98" y="253.90" width="6.38" height="6.45" fill="#5af822"/>
<rect x="459.37" y="253.90" width="6.38" height="6.45" fill="#5af822"/>
<rect x="464.75" y="253.90" width="6.38" height="6.45" fill="#5af822"/>
<rect x="470.13" y="253.90" width="6.38" height="6.45" fill="#5af822"/>
<rect x="475.52" y="253.90" width="5.38" height="6.45" fill="#5af822"/>
<rect x="448.60" y="259.35" width="6.38" height="5.45" fill="#229e1c"/>
<rect x="453.98" y="259.35" width="6.38" height="5.45" fill="#5af822"/>
<rect x="459.37" y="259.35" width="6.38" height="5.45" fill="#5af822"/>
<rect x="464.75" y="259.35" width="6.38" height="5.45" fill="#5af822"/>
<rect x="470.13" y="259.35" width="6.38" height="5.45" fill="#5af822"/>
<rect x="475.52" y="259.35" width="5.38" height="5.45" fill="#080808"/>
<text transform="translate(453.00,175.0) rotate(-90)" font-size="5.5" fill="#111" stroke="#111" stroke-width="0.04">IL2</text>
<text transform="translate(458.52,175.0) rotate(-90)" font-size="5.5" fill="#111" stroke="#111" stroke-width="0.04">CD28RE/AP1</text>
<text transform="translate(464.04,175.0) rotate(-90)" font-size="5.5" fill="#111" stroke="#111" stroke-width="0.04">AP1</text>
<text transform="translate(469.56,175.0) rotate(-90)" font-size="5.5" fill="#111" stroke="#111" stroke-width="0.04">CRE</text>
<text transform="translate(475.08,175.0) rotate(-90)" font-size="5.5" fill="#111" stroke="#111" stroke-width="0.04">NFκB</text>
<text transform="translate(480.60,175.0) rotate(-90)" font-size="5.5" fill="#111" stroke="#111" stroke-width="0.04">NFAT</text>
<path d="M332.7,134.1 V36.6 H480.4 V134.1 Z" fill="none" stroke="#9a98b0" stroke-width="0.7"/>
<path d="M333.1,273.3 V176.2 H482 V273.3 Z" fill="none" stroke="#9a98b0" stroke-width="0.7"/>
<text x="332.2" y="43.23" font-size="5.8" text-anchor="end" fill="#222" stroke="#222" stroke-width="0.12">1</text>
<text x="332.2" y="48.67" font-size="5.8" text-anchor="end" fill="#222" stroke="#222" stroke-width="0.12">2</text>
<text x="332.2" y="54.12" font-size="5.8" text-anchor="end" fill="#222" stroke="#222" stroke-width="0.12">3</text>
<text x="332.2" y="59.58" font-size="5.8" text-anchor="end" fill="#222" stroke="#222" stroke-width="0.12">4</text>
<text x="332.2" y="65.03" font-size="5.8" text-anchor="end" fill="#222" stroke="#222" stroke-width="0.12">5</text>
<text x="332.2" y="70.47" font-size="5.8" text-anchor="end" fill="#222" stroke="#222" stroke-width="0.12">6</text>
<text x="332.2" y="75.93" font-size="5.8" text-anchor="end" fill="#222" stroke="#222" stroke-width="0.12">7</text>
<text x="332.2" y="81.38" font-size="5.8" text-anchor="end" fill="#222" stroke="#222" stroke-width="0.12">8</text>
<text x="332.2" y="86.83" font-size="5.8" text-anchor="end" fill="#222" stroke="#222" stroke-width="0.12">9</text>
<text x="332.2" y="92.28" font-size="5.8" text-anchor="end" fill="#222" stroke="#222" stroke-width="0.12">0</text>
<text x="327.9" y="91.98" font-size="4.6" text-anchor="end" fill="#555">1</text>
<text x="332.2" y="97.72" font-size="5.8" text-anchor="end" fill="#222" stroke="#222" stroke-width="0.12">1</text>
<text x="327.9" y="97.42" font-size="4.6" text-anchor="end" fill="#555">1</text>
<text x="332.2" y="103.18" font-size="5.8" text-anchor="end" fill="#222" stroke="#222" stroke-width="0.12">2</text>
<text x="327.9" y="102.88" font-size="4.6" text-anchor="end" fill="#555">1</text>
<text x="332.2" y="108.62" font-size="5.8" text-anchor="end" fill="#222" stroke="#222" stroke-width="0.12">3</text>
<text x="327.9" y="108.33" font-size="4.6" text-anchor="end" fill="#555">1</text>
<text x="332.2" y="114.08" font-size="5.8" text-anchor="end" fill="#222" stroke="#222" stroke-width="0.12">4</text>
<text x="327.9" y="113.78" font-size="4.6" text-anchor="end" fill="#555">1</text>
<text x="332.2" y="119.53" font-size="5.8" text-anchor="end" fill="#222" stroke="#222" stroke-width="0.12">5</text>
<text x="327.9" y="119.23" font-size="4.6" text-anchor="end" fill="#555">1</text>
<text x="332.2" y="124.98" font-size="5.8" text-anchor="end" fill="#222" stroke="#222" stroke-width="0.12">6</text>
<text x="327.9" y="124.68" font-size="4.6" text-anchor="end" fill="#555">1</text>
<text x="333.20" y="182.22" font-size="6.0" text-anchor="end" fill="#222">1</text>
<text x="333.20" y="187.68" font-size="6.0" text-anchor="end" fill="#222">2</text>
<text x="333.20" y="193.12" font-size="6.0" text-anchor="end" fill="#222">3</text>
<text x="333.20" y="198.57" font-size="6.0" text-anchor="end" fill="#222">4</text>
<text x="333.20" y="204.03" font-size="6.0" text-anchor="end" fill="#222">5</text>
<text x="333.20" y="209.47" font-size="6.0" text-anchor="end" fill="#222">6</text>
<text x="333.20" y="214.93" font-size="6.0" text-anchor="end" fill="#222">7</text>
<text x="333.20" y="220.38" font-size="6.0" text-anchor="end" fill="#222">8</text>
<text x="333.20" y="225.83" font-size="6.0" text-anchor="end" fill="#222">9</text>
<text x="333.20" y="231.28" font-size="6.0" text-anchor="end" fill="#222">10</text>
<text x="333.20" y="236.72" font-size="6.0" text-anchor="end" fill="#222">11</text>
<text x="333.20" y="242.18" font-size="6.0" text-anchor="end" fill="#222">12</text>
<text x="333.20" y="247.62" font-size="6.0" text-anchor="end" fill="#222">13</text>
<text x="333.20" y="253.08" font-size="6.0" text-anchor="end" fill="#222">14</text>
<text x="333.20" y="258.52" font-size="6.0" text-anchor="end" fill="#222">15</text>
<text x="333.20" y="263.97" font-size="6.0" text-anchor="end" fill="#222">16</text>
<text x="482.6" y="43.00" font-size="4.3" fill="#1a1a1a" stroke="#1a1a1a" stroke-width="0.08">Unstim</text>
<text x="482.6" y="48.54" font-size="4.3" fill="#1a1a1a" stroke="#1a1a1a" stroke-width="0.08">PMA</text>
<text x="482.6" y="54.08" font-size="4.3" fill="#1a1a1a" stroke="#1a1a1a" stroke-width="0.08">ion</text>
<text x="482.6" y="59.62" font-size="4.3" fill="#1a1a1a" stroke="#1a1a1a" stroke-width="0.08">PHA</text>
<text x="482.6" y="65.16" font-size="4.3" fill="#1a1a1a" stroke="#1a1a1a" stroke-width="0.08">αCD3</text>
<text x="482.6" y="70.70" font-size="4.3" fill="#1a1a1a" stroke="#1a1a1a" stroke-width="0.08">αCD28</text>
<text x="482.6" y="76.24" font-size="4.3" fill="#1a1a1a" stroke="#1a1a1a" stroke-width="0.08">Ion/PMA</text>
<text x="482.6" y="81.78" font-size="4.3" fill="#1a1a1a" stroke="#1a1a1a" stroke-width="0.08">PHA/PMA</text>
<text x="482.6" y="87.32" font-size="4.3" fill="#1a1a1a" stroke="#1a1a1a" stroke-width="0.08">αCD3/PMA</text>
<text x="482.6" y="92.86" font-size="4.3" fill="#1a1a1a" stroke="#1a1a1a" stroke-width="0.08">Ion/PMA/αCD28</text>
<text x="482.6" y="98.40" font-size="4.3" fill="#1a1a1a" stroke="#1a1a1a" stroke-width="0.08">PHA/PMA/αCD28</text>
<text x="482.6" y="103.94" font-size="4.3" fill="#1a1a1a" stroke="#1a1a1a" stroke-width="0.08">αCD3/PMA/αCD28</text>
<text x="482.6" y="109.48" font-size="4.3" fill="#1a1a1a" stroke="#1a1a1a" stroke-width="0.08">αCD3/αCD28</text>
<text x="482.6" y="115.02" font-size="4.3" fill="#1a1a1a" stroke="#1a1a1a" stroke-width="0.08">PMA/αCD28</text>
<text x="482.6" y="120.56" font-size="4.3" fill="#1a1a1a" stroke="#1a1a1a" stroke-width="0.08">Ion/αCD28</text>
<text x="482.6" y="126.10" font-size="4.3" fill="#1a1a1a" stroke="#1a1a1a" stroke-width="0.08">PHA/αCD28</text>
<text x="484.6" y="182.30" font-size="4.3" fill="#1a1a1a" stroke="#1a1a1a" stroke-width="0">Unstim</text>
<text x="484.6" y="187.80" font-size="4.3" fill="#1a1a1a" stroke="#1a1a1a" stroke-width="0">PMA</text>
<text x="484.6" y="193.30" font-size="4.3" fill="#1a1a1a" stroke="#1a1a1a" stroke-width="0">ion</text>
<text x="484.6" y="198.80" font-size="4.3" fill="#1a1a1a" stroke="#1a1a1a" stroke-width="0">PHA</text>
<text x="484.6" y="204.30" font-size="4.3" fill="#1a1a1a" stroke="#1a1a1a" stroke-width="0">αCD3</text>
<text x="484.6" y="209.80" font-size="4.3" fill="#1a1a1a" stroke="#1a1a1a" stroke-width="0">αCD28</text>
<text x="484.6" y="215.30" font-size="4.3" fill="#1a1a1a" stroke="#1a1a1a" stroke-width="0">Ion/PMA</text>
<text x="484.6" y="220.80" font-size="4.3" fill="#1a1a1a" stroke="#1a1a1a" stroke-width="0">PHA/PMA</text>
<text x="484.6" y="226.30" font-size="4.3" fill="#1a1a1a" stroke="#1a1a1a" stroke-width="0">αCD3/PMA</text>
<text x="484.6" y="231.80" font-size="4.3" fill="#1a1a1a" stroke="#1a1a1a" stroke-width="0">Ion/PMA/αCD28</text>
<text x="484.6" y="237.30" font-size="4.3" fill="#1a1a1a" stroke="#1a1a1a" stroke-width="0">PHA/PMA/αCD28</text>
<text x="484.6" y="242.80" font-size="4.3" fill="#1a1a1a" stroke="#1a1a1a" stroke-width="0">αCD3/PMA/αCD28</text>
<text x="484.6" y="248.30" font-size="4.3" fill="#1a1a1a" stroke="#1a1a1a" stroke-width="0">αCD3/αCD28</text>
<text x="484.6" y="253.80" font-size="4.3" fill="#1a1a1a" stroke="#1a1a1a" stroke-width="0">PMA/αCD28</text>
<text x="484.6" y="259.30" font-size="4.3" fill="#1a1a1a" stroke="#1a1a1a" stroke-width="0">Ion/αCD28</text>
<text x="484.6" y="264.80" font-size="4.3" fill="#1a1a1a" stroke="#1a1a1a" stroke-width="0">PHA/αCD28</text>
<text x="350.3" y="133.4" font-size="8" text-anchor="middle" fill="#111">Control</text>
<text x="387.8" y="133.4" font-size="8" text-anchor="middle" fill="#111">CPS11</text>
<text x="425.2" y="133.4" font-size="8" text-anchor="middle" fill="#111">CPS45</text>
<text x="462.5" y="133.4" font-size="8" text-anchor="middle" fill="#111">CPS49</text>
<text x="350.7" y="272.2" font-size="8" text-anchor="middle" fill="#111">2001</text>
<text x="388.2" y="272.2" font-size="8" text-anchor="middle" fill="#111">4001</text>
<text x="426.0" y="272.2" font-size="8" text-anchor="middle" fill="#111">4047</text>
<text x="464.8" y="272.2" font-size="8" text-anchor="middle" fill="#111">5013</text>
<defs><linearGradient id="cb" x1="0" x2="1" y1="0" y2="0"><stop offset="0" stop-color="#40e22c"/><stop offset="0.16" stop-color="#38d428"/><stop offset="0.28" stop-color="#1c8014"/><stop offset="0.4" stop-color="#041a03"/><stop offset="0.44" stop-color="#000"/><stop offset="0.64" stop-color="#000"/><stop offset="0.75" stop-color="#3a0505"/><stop offset="0.88" stop-color="#a01010"/><stop offset="1" stop-color="#f02020"/></linearGradient></defs>
<rect x="376" y="294" width="71.8" height="5.3" fill="url(#cb)"/>
<text x="410.2" y="291.8" font-size="7.3" font-weight="bold" text-anchor="middle" fill="#111">% max stim.</text>
<path d="M376.3,301.2 H447.6 M376.3,299.6 V303.3 M414,299.6 V303.3 M447.6,299.6 V303.3" stroke="#111" stroke-width="0.9" fill="none"/>
<text x="376.3" y="310.5" font-size="7" text-anchor="middle" fill="#222">0</text>
<text x="414" y="310.5" font-size="7" text-anchor="middle" fill="#222">100</text>
<text x="447.6" y="310.5" font-size="7" text-anchor="middle" fill="#222">180</text>
<rect x="323.8" y="325" width="144.4" height="101.8" fill="none" stroke="#c8c8c8" stroke-width="0.9"/>
<text x="317.3" y="430.0" font-size="8.8" text-anchor="end" fill="#222">0</text>
<path d="M321.2,427.0 H323.8" stroke="#aaa" stroke-width="0.7"/>
<text x="317.3" y="410.0" font-size="8.8" text-anchor="end" fill="#222">20</text>
<path d="M321.2,407.0 H323.8" stroke="#aaa" stroke-width="0.7"/>
<text x="317.3" y="390.0" font-size="8.8" text-anchor="end" fill="#222">40</text>
<path d="M321.2,387.0 H323.8" stroke="#aaa" stroke-width="0.7"/>
<text x="317.3" y="370.0" font-size="8.8" text-anchor="end" fill="#222">60</text>
<path d="M321.2,367.0 H323.8" stroke="#aaa" stroke-width="0.7"/>
<text x="317.3" y="350.0" font-size="8.8" text-anchor="end" fill="#222">80</text>
<path d="M321.2,347.0 H323.8" stroke="#aaa" stroke-width="0.7"/>
<text x="317.3" y="330.0" font-size="8.8" text-anchor="end" fill="#222">100</text>
<path d="M321.2,327.0 H323.8" stroke="#aaa" stroke-width="0.7"/>
<rect x="337.00" y="389.00" width="11" height="38.00" fill="#2b48e6"/>
<rect x="337.00" y="389.00" width="11" height="38.00" fill="#000"/>
<text x="342.50" y="440" font-size="8.8" text-anchor="middle" fill="#222">1</text>
<rect x="355.17" y="363.00" width="11" height="64.00" fill="#2b48e6"/>
<rect x="355.17" y="401.50" width="11" height="25.50" fill="#000"/>
<text x="360.67" y="440" font-size="8.8" text-anchor="middle" fill="#222">2</text>
<rect x="373.34" y="351.00" width="11" height="76.00" fill="#2b48e6"/>
<rect x="373.34" y="414.30" width="11" height="12.70" fill="#000"/>
<text x="378.84" y="440" font-size="8.8" text-anchor="middle" fill="#222">3</text>
<rect x="391.51" y="340.00" width="11" height="87.00" fill="#2b48e6"/>
<rect x="391.51" y="415.50" width="11" height="11.50" fill="#000"/>
<text x="397.01" y="440" font-size="8.8" text-anchor="middle" fill="#222">4</text>
<rect x="409.68" y="333.50" width="11" height="93.50" fill="#2b48e6"/>
<rect x="409.68" y="420.00" width="11" height="7.00" fill="#000"/>
<text x="415.18" y="440" font-size="8.8" text-anchor="middle" fill="#222">5</text>
<rect x="427.85" y="330.00" width="11" height="97.00" fill="#2b48e6"/>
<rect x="427.85" y="424.00" width="11" height="3.00" fill="#000"/>
<text x="433.35" y="440" font-size="8.8" text-anchor="middle" fill="#222">6</text>
<rect x="446.02" y="327.00" width="11" height="100.00" fill="#2b48e6"/>
<rect x="446.02" y="424.00" width="11" height="3.00" fill="#000"/>
<text x="451.52" y="440" font-size="8.8" text-anchor="middle" fill="#222">7</text>
<text x="397" y="453.8" font-size="9.7" text-anchor="middle" fill="#222">no. of Principal Components</text>
<text transform="translate(297.6,376.4) rotate(-90)" font-size="10.5" text-anchor="middle" fill="#222">% of Variance Explained</text>
<defs><clipPath id="cc"><rect x="0" y="258" width="240" height="171"/></clipPath></defs>
<g clip-path="url(#cc)">
<path d="M19.90,389.00 L11.70,291.00 M28.97,383.04 L21.81,285.34 M37.88,377.17 L31.73,279.79 M46.63,371.41 L41.46,274.34 M55.24,365.75 L51.01,269.00 M63.71,360.18 L60.38,263.75 M72.04,354.70 L69.58,258.60 M80.22,349.31 L78.62,253.54 M88.28,344.01 L87.49,248.58 M96.20,338.80 L96.20,243.70 " stroke="#a2a2a2" stroke-width="0.7" fill="none"/>
<path d="M12.40,396.40 L96.20,338.80 M12.33,385.94 L96.20,329.35 M12.26,375.46 L96.20,319.89 M12.19,364.96 L96.20,310.42 M12.12,354.45 L96.20,300.93 M12.05,343.92 L96.20,291.43 M11.98,333.37 L96.20,281.91 M11.91,322.80 L96.20,272.38 M11.84,312.22 L96.20,262.83 M11.77,301.62 L96.20,253.27 M11.70,291.00 L96.20,243.70 " stroke="#a2a2a2" stroke-width="0.7" fill="none"/>
<path d="M96.20,338.80 L96.20,243.70 M105.36,342.99 L105.38,247.03 M114.69,347.27 L114.72,250.42 M124.19,351.62 L124.24,253.88 M133.87,356.05 L133.94,257.40 M143.73,360.57 L143.82,260.99 M153.79,365.17 L153.90,264.64 M164.03,369.86 L164.16,268.37 M174.48,374.65 L174.63,272.17 M185.13,379.52 L185.31,276.05 M196.00,384.50 L196.20,280.00 M96.20,338.80 L196.00,384.50 M96.20,329.31 L196.02,374.07 M96.20,319.81 L196.04,363.63 M96.20,310.31 L196.06,353.19 M96.20,300.80 L196.08,342.75 M96.20,291.29 L196.10,332.30 M96.20,281.78 L196.12,321.85 M96.20,272.27 L196.14,311.39 M96.20,262.75 L196.16,300.93 M96.20,253.23 L196.18,290.47 M96.20,243.70 L196.20,280.00 " stroke="#a2a2a2" stroke-width="0.7" fill="none"/>
<path d="M12.40,396.40 L108.50,451.90 M22.18,389.68 L118.77,443.99 M31.83,383.04 L128.89,436.19 M41.37,376.49 L138.88,428.50 M50.79,370.01 L148.72,420.92 M60.09,363.62 L158.44,413.43 M69.28,357.30 L168.02,406.05 M78.36,351.06 L177.47,398.77 M87.34,344.89 L186.80,391.59 M96.20,338.80 L196.00,384.50 M12.40,396.40 L96.20,338.80 M21.07,401.41 L105.26,342.95 M29.94,406.53 L114.51,347.18 M39.00,411.76 L123.95,351.51 M48.26,417.11 L133.59,355.92 M57.74,422.58 L143.44,360.43 M67.42,428.18 L153.50,365.04 M77.34,433.90 L163.78,369.74 M87.48,439.76 L174.28,374.55 M97.87,445.76 L185.02,379.47 M108.50,451.90 L196.00,384.50 " stroke="#a2a2a2" stroke-width="0.7" fill="none"/>
<path d="M12.4,396.4 L96.2,338.8" stroke="#4a4a4a" stroke-width="0.9" fill="none"/>
<path d="M12.4,396.4 L108.5,451.9" stroke="#7a7a7a" stroke-width="0.9" fill="none"/>
</g>
<text x="85" y="267.6" font-size="4.1" fill="#999">PCA Mapping (75.5%)</text>
<defs>
<radialGradient id="gY" cx="0.62" cy="0.36" r="0.78" fx="0.66" fy="0.32"><stop offset="0" stop-color="#f4fab0"/><stop offset="0.4" stop-color="#dce858"/><stop offset="0.78" stop-color="#b8c830"/><stop offset="1" stop-color="#808a10"/></radialGradient>
<radialGradient id="gB" cx="0.62" cy="0.36" r="0.78" fx="0.66" fy="0.32"><stop offset="0" stop-color="#5060f0"/><stop offset="0.4" stop-color="#2428d0"/><stop offset="0.78" stop-color="#1414a0"/><stop offset="1" stop-color="#080860"/></radialGradient>
<radialGradient id="gP" cx="0.62" cy="0.36" r="0.78" fx="0.66" fy="0.32"><stop offset="0" stop-color="#d0a0f8"/><stop offset="0.4" stop-color="#b070ee"/><stop offset="0.78" stop-color="#8840d0"/><stop offset="1" stop-color="#5a1890"/></radialGradient>
<radialGradient id="gP2" cx="0.62" cy="0.36" r="0.78" fx="0.66" fy="0.32"><stop offset="0" stop-color="#9a60f0"/><stop offset="0.4" stop-color="#7030d8"/><stop offset="0.78" stop-color="#5018a8"/><stop offset="1" stop-color="#300870"/></radialGradient>
<radialGradient id="gG" cx="0.62" cy="0.36" r="0.78" fx="0.66" fy="0.32"><stop offset="0" stop-color="#b0ff50"/><stop offset="0.4" stop-color="#7ee81c"/><stop offset="0.78" stop-color="#5cc010"/><stop offset="1" stop-color="#308005"/></radialGradient>
<radialGradient id="gR" cx="0.62" cy="0.36" r="0.78" fx="0.66" fy="0.32"><stop offset="0" stop-color="#ff4040"/><stop offset="0.4" stop-color="#e21a1a"/><stop offset="0.78" stop-color="#a80a0a"/><stop offset="1" stop-color="#500000"/></radialGradient>
<radialGradient id="gDR" cx="0.62" cy="0.36" r="0.78" fx="0.66" fy="0.32"><stop offset="0" stop-color="#c44020"/><stop offset="0.4" stop-color="#901c0c"/><stop offset="0.78" stop-color="#480606"/><stop offset="1" stop-color="#180000"/></radialGradient>
<radialGradient id="gO" cx="0.62" cy="0.36" r="0.78" fx="0.66" fy="0.32"><stop offset="0" stop-color="#ffc848"/><stop offset="0.4" stop-color="#f29028"/><stop offset="0.78" stop-color="#c85810"/><stop offset="1" stop-color="#702000"/></radialGradient>
</defs>
<ellipse cx="103.6" cy="304.2" rx="6.9" ry="6.6" fill="url(#gB)"/>
<text x="103.5" y="305.8" font-size="5" fill="#222">4001</text>
<ellipse cx="94.1" cy="307.4" rx="7.1" ry="6.9" fill="url(#gY)" stroke="#fff" stroke-width="0.7"/>
<text x="93.5" y="309.2" font-size="5" fill="#222">2001</text>
<ellipse cx="78.3" cy="329.2" rx="7.4" ry="6.9" fill="url(#gP2)"/>
<text x="80.5" y="330.5" font-size="5" fill="#222">5013</text>
<ellipse cx="73.9" cy="337.3" rx="7.4" ry="6.9" fill="url(#gP)" stroke="#fff" stroke-width="0.7"/>
<text x="74.8" y="338.6" font-size="5" fill="#222">control</text>
<ellipse cx="19.0" cy="351.5" rx="7.6" ry="7.5" fill="url(#gG)"/>
<text x="20" y="353.6" font-size="5" fill="#222">4047</text>
<ellipse cx="166.5" cy="314.3" rx="8.9" ry="7.9" fill="url(#gR)"/>
<text x="168.6" y="315.6" font-size="5" fill="#222">CPS45</text>
<ellipse cx="112.6" cy="402.8" rx="7.7" ry="7.4" fill="url(#gO)"/>
<text x="114.2" y="404.6" font-size="5" fill="#222">CPS11</text>
<ellipse cx="168.6" cy="395.8" rx="7.8" ry="7.1" fill="url(#gDR)"/>
<text x="170.2" y="397.6" font-size="5" fill="#222">CPS49</text>
<rect x="128.8" y="273.8" width="67.2" height="29.8" fill="#fff" stroke="#bbb" stroke-width="0.7"/>
<circle cx="132.3" cy="280.8" r="2.3" fill="#9a66e0"/>
<text x="135.6" y="283.1" font-size="6.5" fill="#223">control</text>
<circle cx="132.3" cy="287.0" r="2.3" fill="#99cc30"/>
<text x="135.6" y="289.3" font-size="6.5" fill="#223">4047</text>
<circle cx="132.3" cy="293.2" r="2.3" fill="#7040c8"/>
<text x="135.6" y="295.5" font-size="6.5" fill="#223">5013</text>
<circle cx="132.3" cy="299.5" r="2.3" fill="#2030c0"/>
<text x="135.6" y="301.8" font-size="6.5" fill="#223">4001</text>
<circle cx="161.8" cy="280.8" r="1.9" fill="#fff" stroke="#d8d860" stroke-width="0.7"/>
<text x="165.2" y="283.1" font-size="6.5" fill="#223">2001 (thal)</text>
<circle cx="161.8" cy="287.0" r="2.3" fill="#cc2020"/>
<text x="165.2" y="289.3" font-size="6.5" fill="#223">CPS45</text>
<circle cx="161.8" cy="293.2" r="2.3" fill="#882010"/>
<text x="165.2" y="295.5" font-size="6.5" fill="#223">CPS49</text>
<circle cx="161.8" cy="299.5" r="2.3" fill="#dd8860"/>
<text x="165.2" y="301.8" font-size="6.5" fill="#223">CPS11</text>
<text transform="translate(8.4,357.9) rotate(-90)" font-size="6.4" fill="#1a1a1a" stroke="#1a1a1a" stroke-width="0.12">PC2 (25.3%)</text>
<text transform="translate(12.6,409.9) rotate(31.9)" font-size="6.4" fill="#1a1a1a" stroke="#1a1a1a" stroke-width="0.12">PC1 (38.1%)</text>
<text transform="translate(163.5,423) rotate(-37.6)" font-size="6.4" fill="#1a1a1a" stroke="#1a1a1a" stroke-width="0.12">PC3 (12.3.1%)</text>
</svg>
</body></html>
